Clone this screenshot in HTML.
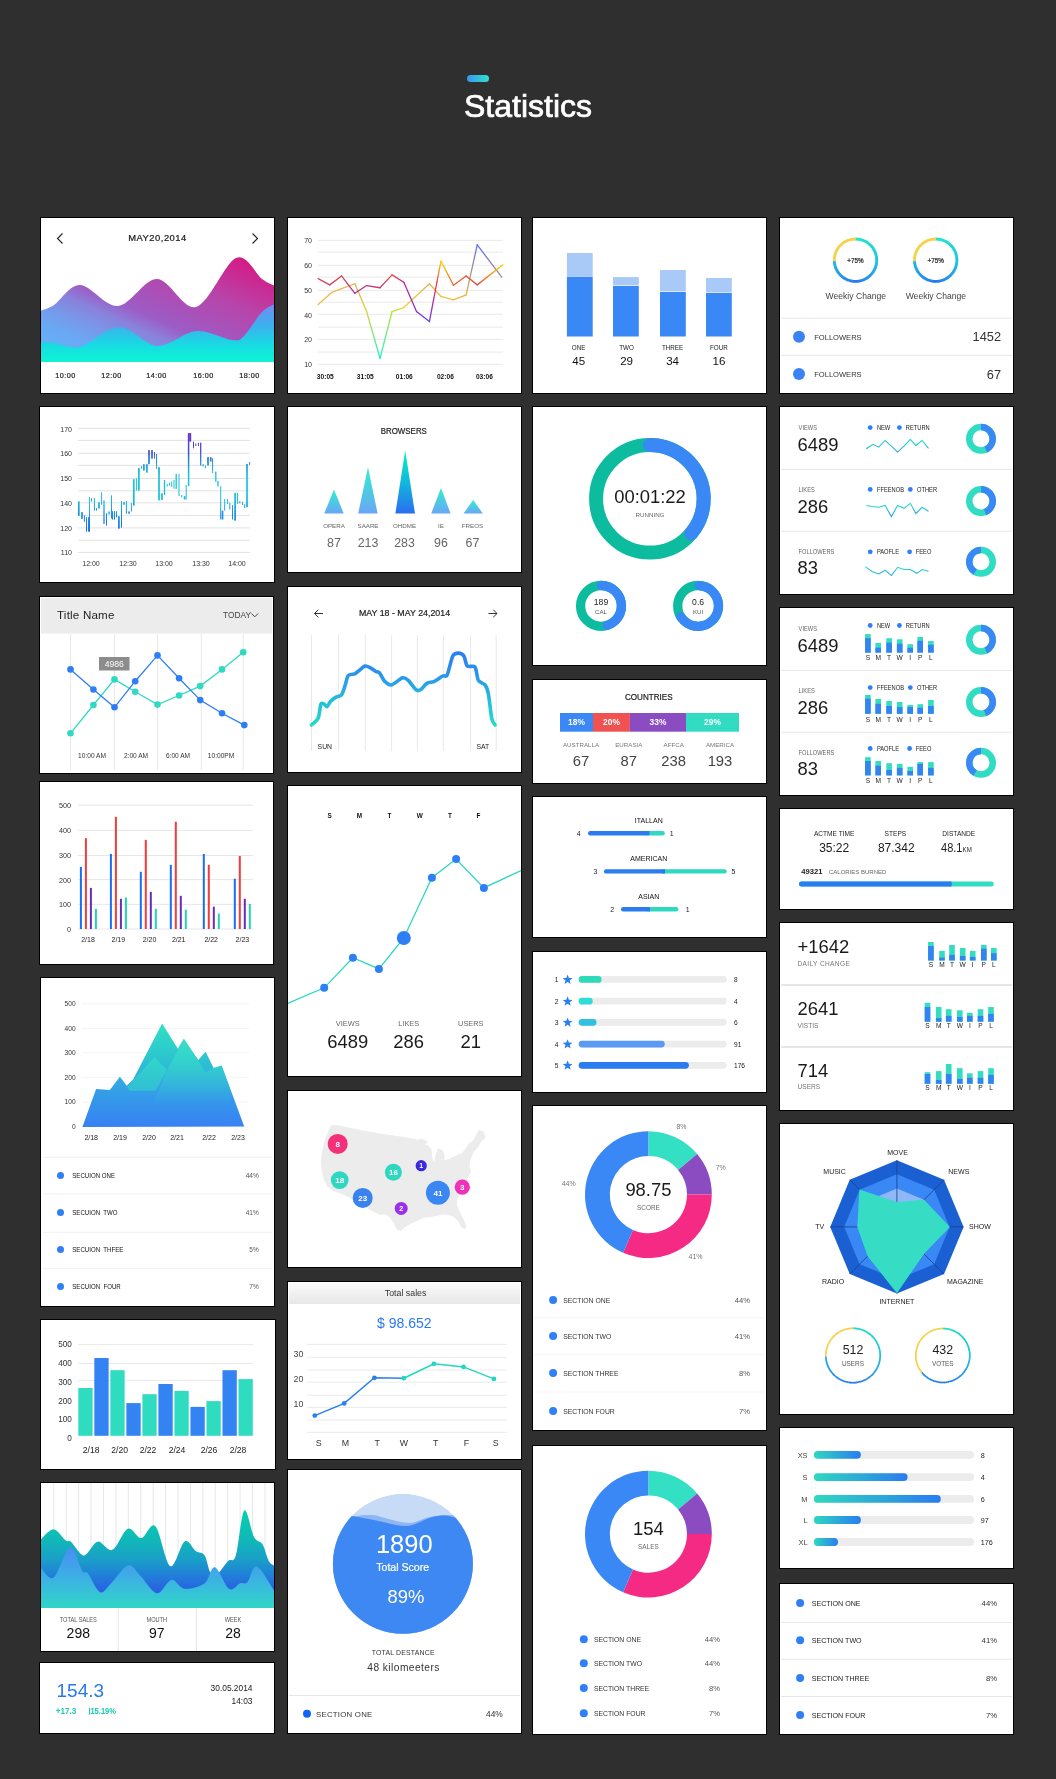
<!DOCTYPE html>
<html><head><meta charset="utf-8"><title>Statistics</title>
<style>
*{margin:0;padding:0;box-sizing:border-box}
html,body{width:1056px;height:1779px;background:#2f2f2f;overflow:hidden}
body{position:relative;font-family:"Liberation Sans",sans-serif}
.c{position:absolute;background:#fff}
.c::after{content:"";position:absolute;left:0;top:0;right:0;bottom:0;border:1px solid #000;pointer-events:none}
.c svg{position:absolute;left:0;top:0;display:block;font-family:"Liberation Sans",sans-serif;will-change:transform}
.hd{position:absolute;left:0;top:0;width:1056px;text-align:center}
.pill{position:absolute;left:467px;top:75px;width:22px;height:7px;border-radius:4px;background:linear-gradient(90deg,#3a95f2,#2fe0cf)}
.title{position:absolute;left:0;width:1056px;top:86px;text-align:center;color:#fff;font-size:32px;line-height:40px;-webkit-text-stroke:0.7px #fff;will-change:transform}
</style></head><body>
<div class="pill"></div>
<div class="title">Statistics</div>
<div class="c" style="left:40px;top:217px;width:235px;height:177px"><svg width="235" height="177" viewBox="40 217 235 177"><defs><linearGradient id="g11a" gradientUnits="userSpaceOnUse" x1="40" y1="362" x2="113.7" y2="194.5"><stop offset="0" stop-color="#62b6fb"/><stop offset="0.2" stop-color="#6aa8f4"/><stop offset="0.3" stop-color="#7a96e8"/><stop offset="0.39" stop-color="#8a80da"/><stop offset="0.47" stop-color="#9c5cc6"/><stop offset="0.72" stop-color="#b844aa"/><stop offset="1" stop-color="#d8157f"/></linearGradient><linearGradient id="g11b" gradientUnits="userSpaceOnUse" x1="0" y1="300" x2="0" y2="362"><stop offset="0" stop-color="#7c86f6"/><stop offset="0.4" stop-color="#3eaeee"/><stop offset="0.75" stop-color="#16dee0"/><stop offset="1" stop-color="#0ef4d6"/></linearGradient></defs><path d="M40,311 C42.33,310 47.33,309.33 54,305 C60.67,300.67 69.33,284.83 80,285 C90.67,285.17 105.17,307 118,306 C130.83,305 144,278.83 157,279 C170,279.17 182.83,310.5 196,307 C209.17,303.5 225,262.67 236,258 C247,253.33 255.5,274.33 262,279 C268.5,283.67 272.83,284.83 275,286 L275,362 L40,362 Z" fill="url(#g11a)"/><path d="M40,342 C42.5,342.17 48.33,342.17 55,343 C61.67,343.83 69.33,349.67 80,347 C90.67,344.33 106.17,327.17 119,327 C131.83,326.83 144.17,345.33 157,346 C169.83,346.67 183.5,332 196,331 C208.5,330 224,339.17 232,340 C240,340.83 239,340.67 244,336 C249,331.33 256.83,317.33 262,312 C267.17,306.67 272.83,305.33 275,304 L275,362 L40,362 Z" fill="url(#g11b)"/><polyline points="62.5,233.5 57.5,238.5 62.5,243.5" fill="none" stroke="#222" stroke-width="1.1"/><polyline points="252.5,233.5 257.5,238.5 252.5,243.5" fill="none" stroke="#222" stroke-width="1.1"/><text x="157.5" y="240.9" font-size="9.4" fill="#1a1a1a" text-anchor="middle" stroke="#1a1a1a" stroke-width="0.22" letter-spacing="0.5">MAY20,2014</text><text x="65.6" y="378" font-size="7.2" fill="#1e1e1e" text-anchor="middle" stroke="#1e1e1e" stroke-width="0.22" letter-spacing="0.5">10:00</text><text x="111.6" y="378" font-size="7.2" fill="#1e1e1e" text-anchor="middle" stroke="#1e1e1e" stroke-width="0.22" letter-spacing="0.5">12:00</text><text x="156.6" y="378" font-size="7.2" fill="#1e1e1e" text-anchor="middle" stroke="#1e1e1e" stroke-width="0.22" letter-spacing="0.5">14:00</text><text x="203.6" y="378" font-size="7.2" fill="#1e1e1e" text-anchor="middle" stroke="#1e1e1e" stroke-width="0.22" letter-spacing="0.5">16:00</text><text x="249.6" y="378" font-size="7.2" fill="#1e1e1e" text-anchor="middle" stroke="#1e1e1e" stroke-width="0.22" letter-spacing="0.5">18:00</text></svg></div>
<div class="c" style="left:39px;top:406px;width:236px;height:177px"><svg width="236" height="177" viewBox="39 406 236 177"><defs><linearGradient id="g12" gradientUnits="userSpaceOnUse" x1="0" y1="432" x2="0" y2="532"><stop offset="0" stop-color="#6d2ec2"/><stop offset="0.2" stop-color="#3d52cc"/><stop offset="0.36" stop-color="#1fa6da"/><stop offset="0.45" stop-color="#16c6d8"/><stop offset="0.68" stop-color="#18bddc"/><stop offset="0.82" stop-color="#1a90e8"/><stop offset="1" stop-color="#1566f2"/></linearGradient></defs><line x1="78" y1="428.4" x2="250" y2="428.4" stroke="#e2e2e2" stroke-width="1"/><line x1="78" y1="440.4" x2="250" y2="440.4" stroke="#e2e2e2" stroke-width="1"/><line x1="78" y1="453.3" x2="250" y2="453.3" stroke="#e2e2e2" stroke-width="1"/><line x1="78" y1="465.4" x2="250" y2="465.4" stroke="#e2e2e2" stroke-width="1"/><line x1="78" y1="478.5" x2="250" y2="478.5" stroke="#e2e2e2" stroke-width="1"/><line x1="78" y1="490.8" x2="250" y2="490.8" stroke="#e2e2e2" stroke-width="1"/><line x1="78" y1="502.8" x2="250" y2="502.8" stroke="#e2e2e2" stroke-width="1"/><line x1="78" y1="515.4" x2="250" y2="515.4" stroke="#e2e2e2" stroke-width="1"/><line x1="78" y1="527.9" x2="250" y2="527.9" stroke="#e2e2e2" stroke-width="1"/><line x1="78" y1="540.2" x2="250" y2="540.2" stroke="#e2e2e2" stroke-width="1"/><line x1="78" y1="552.4" x2="250" y2="552.4" stroke="#e2e2e2" stroke-width="1"/><g fill="url(#g12)"><rect x="77.95" y="501.3" width="1.7" height="14.5"/><rect x="81.15" y="512.1" width="1.7" height="6.7"/><rect x="83.9" y="515.2" width="1" height="6.6"/><rect x="86" y="517.1" width="1" height="14.5"/><rect x="88.05" y="517.1" width="1.7" height="14.5"/><rect x="89.05" y="497" width="0.9" height="34.6"/><rect x="91" y="498.1" width="1" height="3.6"/><rect x="93.9" y="498.1" width="1" height="12.6"/><rect x="96" y="508.1" width="1" height="2.6"/><rect x="98.15" y="502.2" width="1.7" height="6.3"/><rect x="101.1" y="492.3" width="1" height="12.4"/><rect x="103.35" y="500.4" width="1.3" height="23.5"/><rect x="106" y="513.2" width="1" height="12.4"/><rect x="108.45" y="511.5" width="1.3" height="3"/><rect x="111" y="495.3" width="1" height="23"/><rect x="111.85" y="511.1" width="1.3" height="8.5"/><rect x="114" y="511.1" width="1" height="8.5"/><rect x="116" y="511.1" width="1" height="6.4"/><rect x="118.05" y="516.2" width="1.7" height="12.4"/><rect x="121" y="500.9" width="1" height="26.8"/><rect x="123.15" y="502.2" width="1.7" height="2.5"/><rect x="125.9" y="500.9" width="1" height="12.8"/><rect x="128.15" y="511.4" width="1.7" height="2.3"/><rect x="130.9" y="503" width="1" height="8.5"/><rect x="132.95" y="479.1" width="1.7" height="26.5"/><rect x="135.9" y="478.3" width="1" height="12.3"/><rect x="138.05" y="468.1" width="1.7" height="22.5"/><rect x="141" y="466.3" width="1" height="2.2"/><rect x="143.05" y="464.2" width="1.7" height="6.4"/><rect x="146.05" y="464.2" width="1.7" height="8.5"/><rect x="148.15" y="450.1" width="1.7" height="14.1"/><rect x="151.15" y="450.1" width="1.7" height="8.6"/><rect x="154" y="452.1" width="1" height="6.6"/><rect x="156.1" y="454" width="1" height="14.9"/><rect x="158.15" y="467.2" width="1.7" height="33.2"/><rect x="161.15" y="493.2" width="1.7" height="6.8"/><rect x="163.85" y="480" width="1.3" height="14.9"/><rect x="166.8" y="484" width="1" height="2.5"/><rect x="169" y="482.8" width="1" height="2.9"/><rect x="171.2" y="481.5" width="1" height="5.5"/><rect x="173.5" y="480" width="1" height="8.8"/><rect x="175.55" y="473.9" width="1.3" height="14.9"/><rect x="178.5" y="473.9" width="1" height="22.2"/><rect x="181.2" y="495" width="1" height="2.2"/><rect x="183.75" y="496.1" width="1.7" height="3.4"/><rect x="185.7" y="485" width="1" height="14.5"/><rect x="187.85" y="433.1" width="1.5" height="53"/><rect x="189.2" y="433.1" width="2" height="8.5"/><rect x="193" y="441.6" width="1" height="6.7"/><rect x="195.3" y="443.5" width="1" height="2.5"/><rect x="197.9" y="442.7" width="1" height="3.3"/><rect x="200.05" y="442.7" width="1.3" height="22.9"/><rect x="202.6" y="464" width="1" height="2.5"/><rect x="204.8" y="465.6" width="1" height="2.7"/><rect x="207.15" y="457.2" width="1.7" height="8.4"/><rect x="209.85" y="457.2" width="1.7" height="4.4"/><rect x="212.1" y="458.3" width="1" height="14.9"/><rect x="215.15" y="471.6" width="1.3" height="10.1"/><rect x="217.35" y="481" width="1.3" height="5.6"/><rect x="220.2" y="486.1" width="1" height="33.4"/><rect x="221.65" y="510.6" width="1.7" height="8.9"/><rect x="224.2" y="499" width="1" height="11.6"/><rect x="227.1" y="499" width="1" height="4.9"/><rect x="229.3" y="502.8" width="1" height="6.7"/><rect x="232" y="505" width="1" height="14.5"/><rect x="234.25" y="492.8" width="1.7" height="27.8"/><rect x="237.1" y="492.8" width="1" height="11.1"/><rect x="239.3" y="501" width="1" height="2.5"/><rect x="242" y="501.7" width="1" height="3.3"/><rect x="244.2" y="504" width="1" height="4"/><rect x="246.15" y="463.9" width="1.7" height="43.3"/><rect x="249.1" y="462" width="1" height="3"/></g><text x="72" y="431.5" font-size="7" fill="#333" text-anchor="end">170</text><text x="72" y="455.5" font-size="7" fill="#333" text-anchor="end">160</text><text x="72" y="480.5" font-size="7" fill="#333" text-anchor="end">150</text><text x="72" y="505.5" font-size="7" fill="#333" text-anchor="end">140</text><text x="72" y="530.5" font-size="7" fill="#333" text-anchor="end">120</text><text x="72" y="554.5" font-size="7" fill="#333" text-anchor="end">110</text><text x="91" y="565.7" font-size="7" fill="#333" text-anchor="middle">12:00</text><text x="128" y="565.7" font-size="7" fill="#333" text-anchor="middle">12:30</text><text x="164" y="565.7" font-size="7" fill="#333" text-anchor="middle">13:00</text><text x="201" y="565.7" font-size="7" fill="#333" text-anchor="middle">13:30</text><text x="237" y="565.7" font-size="7" fill="#333" text-anchor="middle">14:00</text></svg></div>
<div class="c" style="left:39px;top:596px;width:235px;height:178px"><svg width="235" height="178" viewBox="39 596 235 178"><rect x="41" y="598" width="231" height="35.5" fill="#ececec"/><text x="57" y="618.9" font-size="11.6" fill="#1e1e1e" letter-spacing="0.2">Title Name</text><text x="223" y="617.6" font-size="8.4" fill="#444">TODAY</text><polyline points="251.5,613.5 254.8,616.8 258.1,613.5" fill="none" stroke="#444" stroke-width="1"/><line x1="70.5" y1="634" x2="70.5" y2="770" stroke="#e2e2e2" stroke-width="0.8"/><line x1="114.5" y1="634" x2="114.5" y2="770" stroke="#e2e2e2" stroke-width="0.8"/><line x1="157.5" y1="634" x2="157.5" y2="770" stroke="#e2e2e2" stroke-width="0.8"/><line x1="201.3" y1="634" x2="201.3" y2="770" stroke="#e2e2e2" stroke-width="0.8"/><line x1="243.2" y1="634" x2="243.2" y2="770" stroke="#e2e2e2" stroke-width="0.8"/><polyline points="70.5,733.3 93.4,705 114.5,679.4 135.2,691.7 157.5,704.6 179.1,695.5 200.2,686.1 222,669.4 243.2,652.3" fill="none" stroke="#2fd9c2" stroke-width="1.3"/><polyline points="70.5,669.4 93.4,689.5 114.5,707.3 135.2,681.2 157.5,655.4 179.1,678.3 200.2,700.1 222,713.3 244.3,725.1" fill="none" stroke="#2f7df5" stroke-width="1.3"/><circle cx="70.5" cy="733.3" r="3.3" fill="#2fd9c2"/><circle cx="93.4" cy="705" r="3.3" fill="#2fd9c2"/><circle cx="114.5" cy="679.4" r="3.3" fill="#2fd9c2"/><circle cx="135.2" cy="691.7" r="3.3" fill="#2fd9c2"/><circle cx="157.5" cy="704.6" r="3.3" fill="#2fd9c2"/><circle cx="179.1" cy="695.5" r="3.3" fill="#2fd9c2"/><circle cx="200.2" cy="686.1" r="3.3" fill="#2fd9c2"/><circle cx="222" cy="669.4" r="3.3" fill="#2fd9c2"/><circle cx="243.2" cy="652.3" r="3.3" fill="#2fd9c2"/><circle cx="70.5" cy="669.4" r="3.3" fill="#2f7df5"/><circle cx="93.4" cy="689.5" r="3.3" fill="#2f7df5"/><circle cx="114.5" cy="707.3" r="3.3" fill="#2f7df5"/><circle cx="135.2" cy="681.2" r="3.3" fill="#2f7df5"/><circle cx="157.5" cy="655.4" r="3.3" fill="#2f7df5"/><circle cx="179.1" cy="678.3" r="3.3" fill="#2f7df5"/><circle cx="200.2" cy="700.1" r="3.3" fill="#2f7df5"/><circle cx="222" cy="713.3" r="3.3" fill="#2f7df5"/><circle cx="244.3" cy="725.1" r="3.3" fill="#2f7df5"/><rect x="99" y="657" width="30.5" height="13.5" fill="#8c8c8c"/><text x="114.3" y="667" font-size="8.6" fill="#fff" text-anchor="middle">4986</text><text x="92" y="758" font-size="6.6" fill="#333" text-anchor="middle">10:00 AM</text><text x="136" y="758" font-size="6.6" fill="#333" text-anchor="middle">2:00 AM</text><text x="178" y="758" font-size="6.6" fill="#333" text-anchor="middle">6:00 AM</text><text x="221" y="758" font-size="6.6" fill="#333" text-anchor="middle">10:00PM</text></svg></div>
<div class="c" style="left:39px;top:781px;width:235px;height:184px"><svg width="235" height="184" viewBox="39 781 235 184"><line x1="78" y1="929" x2="253" y2="929" stroke="#e3e3e3" stroke-width="0.9"/><line x1="78" y1="904.4" x2="253" y2="904.4" stroke="#e3e3e3" stroke-width="0.9"/><line x1="78" y1="879.6" x2="253" y2="879.6" stroke="#e3e3e3" stroke-width="0.9"/><line x1="78" y1="855.5" x2="253" y2="855.5" stroke="#e3e3e3" stroke-width="0.9"/><line x1="78" y1="830.4" x2="253" y2="830.4" stroke="#e3e3e3" stroke-width="0.9"/><line x1="78" y1="805.2" x2="253" y2="805.2" stroke="#e3e3e3" stroke-width="0.9"/><text x="71" y="931.9" font-size="7.2" fill="#333" text-anchor="end">0</text><text x="71" y="907.3" font-size="7.2" fill="#333" text-anchor="end">100</text><text x="71" y="882.5" font-size="7.2" fill="#333" text-anchor="end">200</text><text x="71" y="858.4" font-size="7.2" fill="#333" text-anchor="end">300</text><text x="71" y="833.3" font-size="7.2" fill="#333" text-anchor="end">400</text><text x="71" y="808.1" font-size="7.2" fill="#333" text-anchor="end">500</text><rect x="79.9" y="866.85" width="2" height="62.15" fill="#1a6ef5"/><rect x="84.9" y="838.13" width="2" height="90.87" fill="#f23b3b"/><rect x="89.9" y="887.9" width="2" height="41.1" fill="#6a2bb8"/><rect x="94.9" y="908.82" width="2" height="20.18" fill="#1fd6b0"/><rect x="109.9" y="853.98" width="2" height="75.02" fill="#1a6ef5"/><rect x="114.9" y="816.84" width="2" height="112.16" fill="#f23b3b"/><rect x="119.9" y="898.79" width="2" height="30.21" fill="#6a2bb8"/><rect x="124.9" y="897.55" width="2" height="31.45" fill="#1fd6b0"/><rect x="139.8" y="871.8" width="2" height="57.2" fill="#1a6ef5"/><rect x="144.8" y="839.86" width="2" height="89.14" fill="#f23b3b"/><rect x="149.8" y="891.86" width="2" height="37.14" fill="#6a2bb8"/><rect x="154.8" y="908.82" width="2" height="20.18" fill="#1fd6b0"/><rect x="169.8" y="864.87" width="2" height="64.13" fill="#1a6ef5"/><rect x="174.8" y="821.79" width="2" height="107.21" fill="#f23b3b"/><rect x="179.8" y="895.82" width="2" height="33.18" fill="#6a2bb8"/><rect x="184.8" y="909.69" width="2" height="19.31" fill="#1fd6b0"/><rect x="202.8" y="853.98" width="2" height="75.02" fill="#1a6ef5"/><rect x="207.8" y="864.87" width="2" height="64.13" fill="#f23b3b"/><rect x="212.8" y="906.72" width="2" height="22.28" fill="#6a2bb8"/><rect x="217.8" y="913.65" width="2" height="15.35" fill="#1fd6b0"/><rect x="233.8" y="878.74" width="2" height="50.26" fill="#1a6ef5"/><rect x="238.8" y="855.96" width="2" height="73.04" fill="#f23b3b"/><rect x="243.8" y="898.79" width="2" height="30.21" fill="#6a2bb8"/><rect x="248.8" y="903.99" width="2" height="25.01" fill="#1fd6b0"/><text x="88" y="942.3" font-size="7" fill="#222" text-anchor="middle">2/18</text><text x="118.3" y="942.3" font-size="7" fill="#222" text-anchor="middle">2/19</text><text x="149.5" y="942.3" font-size="7" fill="#222" text-anchor="middle">2/20</text><text x="178.7" y="942.3" font-size="7" fill="#222" text-anchor="middle">2/21</text><text x="211.2" y="942.3" font-size="7" fill="#222" text-anchor="middle">2/22</text><text x="242.4" y="942.3" font-size="7" fill="#222" text-anchor="middle">2/23</text></svg></div>
<div class="c" style="left:40px;top:977px;width:235px;height:330px"><svg width="235" height="330" viewBox="40 977 235 330"><defs><linearGradient id="g15" gradientUnits="userSpaceOnUse" x1="0" y1="1022" x2="0" y2="1127"><stop offset="0" stop-color="#2fe2c0"/><stop offset="0.35" stop-color="#2cc4d0"/><stop offset="0.65" stop-color="#33a0e6"/><stop offset="1" stop-color="#3880f4"/></linearGradient><linearGradient id="g15b" gradientUnits="userSpaceOnUse" x1="0" y1="1040" x2="0" y2="1100"><stop offset="0" stop-color="#36e6c4"/><stop offset="1" stop-color="#2fc0d2"/></linearGradient></defs><line x1="82" y1="1126.8" x2="249" y2="1126.8" stroke="#f0f0f0" stroke-width="0.8"/><line x1="82" y1="1102" x2="249" y2="1102" stroke="#f0f0f0" stroke-width="0.8"/><line x1="82" y1="1077.6" x2="249" y2="1077.6" stroke="#f0f0f0" stroke-width="0.8"/><line x1="82" y1="1052.7" x2="249" y2="1052.7" stroke="#f0f0f0" stroke-width="0.8"/><line x1="82" y1="1028.6" x2="249" y2="1028.6" stroke="#f0f0f0" stroke-width="0.8"/><line x1="82" y1="1003.7" x2="249" y2="1003.7" stroke="#f0f0f0" stroke-width="0.8"/><text x="75.6" y="1129.2" font-size="6.6" fill="#333" text-anchor="end">0</text><text x="75.6" y="1104.4" font-size="6.6" fill="#333" text-anchor="end">100</text><text x="75.6" y="1080" font-size="6.6" fill="#333" text-anchor="end">200</text><text x="75.6" y="1055.1" font-size="6.6" fill="#333" text-anchor="end">300</text><text x="75.6" y="1031" font-size="6.6" fill="#333" text-anchor="end">400</text><text x="75.6" y="1006.1" font-size="6.6" fill="#333" text-anchor="end">500</text><polygon points="82.4,1127 96.1,1089 109.8,1089.9 119.9,1076.7 126.7,1085.8 133.1,1079.4 162.1,1023.4 177.9,1048.8 183.8,1038.8 198.3,1060.1 205.6,1051.7 213.6,1068.1 221.7,1065.4 244.2,1126.5" fill="url(#g15)"/><polygon points="127.5,1086.6 154.4,1057.2 166.9,1069.7 155.7,1090.7 129.1,1090.7" fill="url(#g15b)" opacity="0.8"/><defs><linearGradient id="g15c" gradientUnits="userSpaceOnUse" x1="0" y1="1039" x2="0" y2="1105"><stop offset="0" stop-color="#3ae2c6" stop-opacity="0.75"/><stop offset="1" stop-color="#3ae2c6" stop-opacity="0"/></linearGradient></defs><polygon points="150,1110 168.9,1066.4 184.1,1038.9 197.7,1060.3 205.3,1072.4 213.6,1068.1 221.7,1065.4 232,1095 225,1110" fill="url(#g15c)"/><text x="91.2" y="1140.3" font-size="7" fill="#222" text-anchor="middle">2/18</text><text x="120" y="1140.3" font-size="7" fill="#222" text-anchor="middle">2/19</text><text x="149" y="1140.3" font-size="7" fill="#222" text-anchor="middle">2/20</text><text x="177" y="1140.3" font-size="7" fill="#222" text-anchor="middle">2/21</text><text x="209" y="1140.3" font-size="7" fill="#222" text-anchor="middle">2/22</text><text x="238" y="1140.3" font-size="7" fill="#222" text-anchor="middle">2/23</text><line x1="43" y1="1157.3" x2="272" y2="1157.3" stroke="#ececec" stroke-width="0.8"/><line x1="43" y1="1193.8" x2="272" y2="1193.8" stroke="#ececec" stroke-width="0.8"/><line x1="43" y1="1232.3" x2="272" y2="1232.3" stroke="#ececec" stroke-width="0.8"/><line x1="43" y1="1268.6" x2="272" y2="1268.6" stroke="#ececec" stroke-width="0.8"/><circle cx="60.5" cy="1175.6" r="3.5" fill="#2f80f6"/><text transform="translate(72.3 1178.2) scale(0.86 1)" font-size="7.1" fill="#111">SECUION ONE</text><text transform="translate(258.7 1178.2) scale(0.92 1)" font-size="7.1" fill="#555" text-anchor="end">44%</text><circle cx="60.5" cy="1212.5" r="3.5" fill="#2f80f6"/><text transform="translate(72.3 1215.1) scale(0.86 1)" font-size="7.1" fill="#111">SECUION&#160; TWO</text><text transform="translate(258.7 1215.1) scale(0.92 1)" font-size="7.1" fill="#555" text-anchor="end">41%</text><circle cx="60.5" cy="1249.5" r="3.5" fill="#2f80f6"/><text transform="translate(72.3 1252.1) scale(0.86 1)" font-size="7.1" fill="#111">SECUION&#160; THFEE</text><text transform="translate(258.7 1252.1) scale(0.92 1)" font-size="7.1" fill="#555" text-anchor="end">5%</text><circle cx="60.5" cy="1286.4" r="3.5" fill="#2f80f6"/><text transform="translate(72.3 1289) scale(0.86 1)" font-size="7.1" fill="#111">SECUION&#160; FOUR</text><text transform="translate(258.7 1289) scale(0.92 1)" font-size="7.1" fill="#555" text-anchor="end">7%</text></svg></div>
<div class="c" style="left:40px;top:1319px;width:236px;height:151px"><svg width="236" height="151" viewBox="40 1319 236 151"><line x1="78.3" y1="1344.6" x2="253" y2="1344.6" stroke="#e6e6e6" stroke-width="0.9"/><line x1="78.3" y1="1363.5" x2="253" y2="1363.5" stroke="#e6e6e6" stroke-width="0.9"/><line x1="78.3" y1="1380.4" x2="253" y2="1380.4" stroke="#e6e6e6" stroke-width="0.9"/><text x="71.8" y="1346.9" font-size="8.2" fill="#333" text-anchor="end">500</text><text x="71.8" y="1365.9" font-size="8.2" fill="#333" text-anchor="end">400</text><text x="71.8" y="1384.7" font-size="8.2" fill="#333" text-anchor="end">300</text><text x="71.8" y="1403.8" font-size="8.2" fill="#333" text-anchor="end">200</text><text x="71.8" y="1421.9" font-size="8.2" fill="#333" text-anchor="end">100</text><text x="71.8" y="1440.9" font-size="8.2" fill="#333" text-anchor="end">0</text><rect x="78.3" y="1388" width="14.3" height="47.8" fill="#2fdcc0"/><rect x="94.32" y="1358" width="14.3" height="77.8" fill="#3383f2"/><rect x="110.34" y="1370.2" width="14.3" height="65.6" fill="#2fdcc0"/><rect x="126.36" y="1403.1" width="14.3" height="32.7" fill="#3383f2"/><rect x="142.38" y="1394.2" width="14.3" height="41.6" fill="#2fdcc0"/><rect x="158.4" y="1384" width="14.3" height="51.8" fill="#3383f2"/><rect x="174.42" y="1390.9" width="14.3" height="44.9" fill="#2fdcc0"/><rect x="190.44" y="1406.9" width="14.3" height="28.9" fill="#3383f2"/><rect x="206.46" y="1401.1" width="14.3" height="34.7" fill="#2fdcc0"/><rect x="222.48" y="1370.2" width="14.3" height="65.6" fill="#3383f2"/><rect x="238.5" y="1379.1" width="14.3" height="56.7" fill="#2fdcc0"/><text x="91.2" y="1453.3" font-size="8.6" fill="#222" text-anchor="middle">2/18</text><text x="119.7" y="1453.3" font-size="8.6" fill="#222" text-anchor="middle">2/20</text><text x="148" y="1453.3" font-size="8.6" fill="#222" text-anchor="middle">2/22</text><text x="177" y="1453.3" font-size="8.6" fill="#222" text-anchor="middle">2/24</text><text x="209" y="1453.3" font-size="8.6" fill="#222" text-anchor="middle">2/26</text><text x="238" y="1453.3" font-size="8.6" fill="#222" text-anchor="middle">2/28</text></svg></div>
<div class="c" style="left:40px;top:1482px;width:235px;height:170px"><svg width="235" height="170" viewBox="40 1482 235 170"><defs><linearGradient id="g17a" gradientUnits="userSpaceOnUse" x1="0" y1="1510" x2="0" y2="1600"><stop offset="0" stop-color="#04d0ae"/><stop offset="0.333" stop-color="#10b8b8"/><stop offset="0.556" stop-color="#1a9ec8"/><stop offset="0.722" stop-color="#2080d8"/><stop offset="0.911" stop-color="#2a5ee2"/></linearGradient><linearGradient id="g17b" gradientUnits="userSpaceOnUse" x1="0" y1="1547" x2="0" y2="1608"><stop offset="0" stop-color="#4a8cf4"/><stop offset="0.5" stop-color="#3cb0e4"/><stop offset="1" stop-color="#30d6c8"/></linearGradient></defs><line x1="53.8" y1="1483" x2="53.8" y2="1608" stroke="#e4e4e4" stroke-width="0.9"/><line x1="66.22" y1="1483" x2="66.22" y2="1608" stroke="#e4e4e4" stroke-width="0.9"/><line x1="78.64" y1="1483" x2="78.64" y2="1608" stroke="#e4e4e4" stroke-width="0.9"/><line x1="91.06" y1="1483" x2="91.06" y2="1608" stroke="#e4e4e4" stroke-width="0.9"/><line x1="103.48" y1="1483" x2="103.48" y2="1608" stroke="#e4e4e4" stroke-width="0.9"/><line x1="115.9" y1="1483" x2="115.9" y2="1608" stroke="#e4e4e4" stroke-width="0.9"/><line x1="128.32" y1="1483" x2="128.32" y2="1608" stroke="#e4e4e4" stroke-width="0.9"/><line x1="140.74" y1="1483" x2="140.74" y2="1608" stroke="#e4e4e4" stroke-width="0.9"/><line x1="153.16" y1="1483" x2="153.16" y2="1608" stroke="#e4e4e4" stroke-width="0.9"/><line x1="165.58" y1="1483" x2="165.58" y2="1608" stroke="#e4e4e4" stroke-width="0.9"/><line x1="178" y1="1483" x2="178" y2="1608" stroke="#e4e4e4" stroke-width="0.9"/><line x1="190.42" y1="1483" x2="190.42" y2="1608" stroke="#e4e4e4" stroke-width="0.9"/><line x1="202.84" y1="1483" x2="202.84" y2="1608" stroke="#e4e4e4" stroke-width="0.9"/><line x1="215.26" y1="1483" x2="215.26" y2="1608" stroke="#e4e4e4" stroke-width="0.9"/><line x1="227.68" y1="1483" x2="227.68" y2="1608" stroke="#e4e4e4" stroke-width="0.9"/><line x1="240.1" y1="1483" x2="240.1" y2="1608" stroke="#e4e4e4" stroke-width="0.9"/><line x1="252.52" y1="1483" x2="252.52" y2="1608" stroke="#e4e4e4" stroke-width="0.9"/><line x1="264.94" y1="1483" x2="264.94" y2="1608" stroke="#e4e4e4" stroke-width="0.9"/><path d="M40,1540.3 C42.23,1538.45 49.09,1529.17 53.35,1529.17 C57.62,1529.17 62.62,1538.15 65.59,1540.3 C68.56,1542.45 68.56,1539.74 71.15,1542.08 C73.75,1544.42 78.57,1552.39 81.17,1554.32 C83.76,1556.25 83.95,1555.77 86.73,1553.65 C89.51,1551.54 93.59,1542.27 97.85,1541.64 C102.12,1541 107.31,1552.02 112.32,1549.87 C117.33,1547.72 123.07,1530.69 127.89,1528.73 C132.72,1526.76 136.68,1538.52 141.25,1538.07 C145.81,1537.63 150.44,1521.39 155.26,1526.06 C160.09,1530.73 165.28,1563.55 170.17,1566.11 C175.07,1568.67 180.37,1543.93 184.64,1541.41 C188.9,1538.89 192.43,1548.64 195.76,1550.98 C199.1,1553.32 202.25,1551.91 204.66,1555.43 C207.07,1558.95 208.19,1568.97 210.23,1572.12 C212.27,1575.27 213.94,1576.2 216.9,1574.35 C219.87,1572.49 224.88,1564.15 228.03,1560.99 C231.18,1557.84 233.11,1563.85 235.82,1555.43 C238.52,1547.01 241.23,1513.56 244.27,1510.48 C247.31,1507.4 251.02,1531.33 254.06,1536.96 C257.1,1542.6 260.07,1540.3 262.52,1544.31 C264.97,1548.31 266.67,1557.36 268.75,1560.99 C270.83,1564.63 273.96,1565.26 275,1566.11 L275,1608 L40,1608 Z" fill="url(#g17a)"/><path d="M40,1566.56 C42.23,1568.41 48.34,1580.84 53.35,1577.68 C58.36,1574.53 65.22,1548.76 70.04,1547.64 C74.86,1546.53 79.31,1566.74 82.28,1571.01 C85.25,1575.27 84.87,1569.71 87.84,1573.23 C90.81,1576.76 96.19,1590.48 100.08,1592.15 C103.97,1593.82 106.57,1587.7 111.21,1583.25 C115.84,1578.8 123.07,1566.74 127.89,1565.44 C132.72,1564.15 135.31,1570.82 140.13,1575.46 C144.95,1580.09 151.63,1592.52 156.82,1593.26 C162.01,1594 166.65,1580.65 171.29,1579.91 C175.92,1579.17 179.07,1588.25 184.64,1588.81 C190.2,1589.37 199.66,1586.84 204.66,1583.25 C209.67,1579.65 210.6,1566.3 214.68,1567.22 C218.76,1568.15 224.88,1586.14 229.14,1588.81 C233.41,1591.48 237.23,1584.36 240.27,1583.25 C243.31,1582.13 244.61,1584.91 247.39,1582.13 C250.17,1579.35 252.35,1564.89 256.96,1566.56 C261.56,1568.23 271.99,1587.88 275,1592.15 L275,1608 L40,1608 Z" fill="url(#g17b)"/><line x1="118.3" y1="1608" x2="118.3" y2="1651" stroke="#e2e2e2" stroke-width="0.9"/><line x1="196.4" y1="1608" x2="196.4" y2="1651" stroke="#e2e2e2" stroke-width="0.9"/><text transform="translate(78.3 1622.2) scale(0.88 1)" font-size="6.4" fill="#555" text-anchor="middle">TOTAL SALES</text><text x="78.3" y="1638.3" font-size="14" fill="#111" text-anchor="middle">298</text><text transform="translate(156.8 1622.2) scale(0.88 1)" font-size="6.4" fill="#555" text-anchor="middle">MOUTH</text><text x="156.8" y="1638.3" font-size="14" fill="#111" text-anchor="middle">97</text><text transform="translate(233 1622.2) scale(0.88 1)" font-size="6.4" fill="#555" text-anchor="middle">WEEK</text><text x="233" y="1638.3" font-size="14" fill="#111" text-anchor="middle">28</text></svg></div>
<div class="c" style="left:39px;top:1662px;width:236px;height:72px"><svg width="236" height="72" viewBox="39 1662 236 72"><text x="56.5" y="1696.7" font-size="19" fill="#2a78f0">154.3</text><text transform="translate(55.8 1714.2) scale(0.97 1)" font-size="8.4" fill="#1ec8b0" font-weight="bold">+17.3</text><text transform="translate(90.4 1714.2) scale(0.9 1)" font-size="8.4" fill="#1ec8b0" font-weight="bold">15.19%</text><line x1="89.6" y1="1707.8" x2="89.6" y2="1714.8" stroke="#1ec8b0" stroke-width="1.1"/><text x="252.5" y="1691.3" font-size="8.4" fill="#222" text-anchor="end">30.05.2014</text><text x="252.5" y="1704.3" font-size="8.4" fill="#222" text-anchor="end">14:03</text></svg></div>
<div class="c" style="left:287px;top:217px;width:235px;height:177px"><svg width="235" height="177" viewBox="287 217 235 177"><line x1="318" y1="240.4" x2="503" y2="240.4" stroke="#e6e6e6" stroke-width="0.9"/><line x1="318" y1="252.2" x2="503" y2="252.2" stroke="#e6e6e6" stroke-width="0.9"/><line x1="318" y1="265.3" x2="503" y2="265.3" stroke="#e6e6e6" stroke-width="0.9"/><line x1="318" y1="277.1" x2="503" y2="277.1" stroke="#e6e6e6" stroke-width="0.9"/><line x1="318" y1="290.4" x2="503" y2="290.4" stroke="#e6e6e6" stroke-width="0.9"/><line x1="318" y1="302.2" x2="503" y2="302.2" stroke="#e6e6e6" stroke-width="0.9"/><line x1="318" y1="314.2" x2="503" y2="314.2" stroke="#e6e6e6" stroke-width="0.9"/><line x1="318" y1="327.1" x2="503" y2="327.1" stroke="#e6e6e6" stroke-width="0.9"/><line x1="318" y1="339.4" x2="503" y2="339.4" stroke="#e6e6e6" stroke-width="0.9"/><line x1="318" y1="352.1" x2="503" y2="352.1" stroke="#e6e6e6" stroke-width="0.9"/><line x1="318" y1="364.3" x2="503" y2="364.3" stroke="#e6e6e6" stroke-width="0.9"/><text x="312" y="242.9" font-size="7" fill="#333" text-anchor="end">70</text><text x="312" y="267.8" font-size="7" fill="#333" text-anchor="end">60</text><text x="312" y="292.9" font-size="7" fill="#333" text-anchor="end">50</text><text x="312" y="317.5" font-size="7" fill="#333" text-anchor="end">40</text><text x="312" y="341.9" font-size="7" fill="#333" text-anchor="end">20</text><text x="312" y="366.8" font-size="7" fill="#333" text-anchor="end">10</text><defs><linearGradient id="l21_1" gradientUnits="userSpaceOnUse" x1="318.15" y1="304.45" x2="331.5" y2="292.66"><stop offset="0" stop-color="#f0c040"/><stop offset="1" stop-color="#e9b848"/></linearGradient><linearGradient id="l21_2" gradientUnits="userSpaceOnUse" x1="331.5" y1="292.66" x2="341.52" y2="288.65"><stop offset="0" stop-color="#e9b848"/><stop offset="1" stop-color="#e8b850"/></linearGradient><linearGradient id="l21_3" gradientUnits="userSpaceOnUse" x1="341.52" y1="288.65" x2="354.87" y2="283.76"><stop offset="0" stop-color="#e8b850"/><stop offset="1" stop-color="#e8b048"/></linearGradient><linearGradient id="l21_4" gradientUnits="userSpaceOnUse" x1="354.87" y1="283.76" x2="366.66" y2="311.57"><stop offset="0" stop-color="#e8b048"/><stop offset="1" stop-color="#d6d42e"/></linearGradient><linearGradient id="l21_5" gradientUnits="userSpaceOnUse" x1="366.66" y1="311.57" x2="380.01" y2="358.3"><stop offset="0" stop-color="#d6d42e"/><stop offset="1" stop-color="#1ff2c4"/></linearGradient><linearGradient id="l21_6" gradientUnits="userSpaceOnUse" x1="380.01" y1="358.3" x2="392.03" y2="311.57"><stop offset="0" stop-color="#1ff2c4"/><stop offset="1" stop-color="#b6e22e"/></linearGradient><linearGradient id="l21_7" gradientUnits="userSpaceOnUse" x1="392.03" y1="311.57" x2="403.82" y2="307.57"><stop offset="0" stop-color="#b6e22e"/><stop offset="1" stop-color="#f2d22e"/></linearGradient><linearGradient id="l21_8" gradientUnits="userSpaceOnUse" x1="403.82" y1="307.57" x2="429.41" y2="283.76"><stop offset="0" stop-color="#f2d22e"/><stop offset="1" stop-color="#e6b052"/></linearGradient><linearGradient id="l21_9" gradientUnits="userSpaceOnUse" x1="429.41" y1="283.76" x2="440.98" y2="296.44"><stop offset="0" stop-color="#e6b052"/><stop offset="1" stop-color="#f0c040"/></linearGradient><linearGradient id="l21_10" gradientUnits="userSpaceOnUse" x1="440.98" y1="296.44" x2="453.44" y2="299.78"><stop offset="0" stop-color="#f0c040"/><stop offset="1" stop-color="#f0c040"/></linearGradient><linearGradient id="l21_11" gradientUnits="userSpaceOnUse" x1="453.44" y1="299.78" x2="466.13" y2="294.88"><stop offset="0" stop-color="#f0c040"/><stop offset="1" stop-color="#e6b040"/></linearGradient><linearGradient id="l21_12" gradientUnits="userSpaceOnUse" x1="466.13" y1="294.88" x2="477.25" y2="244.81"><stop offset="0" stop-color="#e6b040"/><stop offset="1" stop-color="#5a6ef2"/></linearGradient><linearGradient id="l21_13" gradientUnits="userSpaceOnUse" x1="477.25" y1="244.81" x2="501.73" y2="277.08"><stop offset="0" stop-color="#5a6ef2"/><stop offset="1" stop-color="#a69080"/></linearGradient><linearGradient id="l21_14" gradientUnits="userSpaceOnUse" x1="318.15" y1="278.64" x2="329.72" y2="284.87"><stop offset="0" stop-color="#d8485c"/><stop offset="1" stop-color="#cf3e66"/></linearGradient><linearGradient id="l21_15" gradientUnits="userSpaceOnUse" x1="329.72" y1="284.87" x2="341.52" y2="275.97"><stop offset="0" stop-color="#cf3e66"/><stop offset="1" stop-color="#d8484e"/></linearGradient><linearGradient id="l21_16" gradientUnits="userSpaceOnUse" x1="341.52" y1="275.97" x2="354.87" y2="293.32"><stop offset="0" stop-color="#d8484e"/><stop offset="1" stop-color="#ae2a9e"/></linearGradient><linearGradient id="l21_17" gradientUnits="userSpaceOnUse" x1="354.87" y1="293.32" x2="366.66" y2="285.54"><stop offset="0" stop-color="#ae2a9e"/><stop offset="1" stop-color="#c13282"/></linearGradient><linearGradient id="l21_18" gradientUnits="userSpaceOnUse" x1="366.66" y1="285.54" x2="380.01" y2="287.76"><stop offset="0" stop-color="#c13282"/><stop offset="1" stop-color="#c8387a"/></linearGradient><linearGradient id="l21_19" gradientUnits="userSpaceOnUse" x1="380.01" y1="287.76" x2="392.03" y2="274.85"><stop offset="0" stop-color="#c8387a"/><stop offset="1" stop-color="#e25040"/></linearGradient><linearGradient id="l21_20" gradientUnits="userSpaceOnUse" x1="392.03" y1="274.85" x2="403.82" y2="282.2"><stop offset="0" stop-color="#e25040"/><stop offset="1" stop-color="#c0288e"/></linearGradient><linearGradient id="l21_21" gradientUnits="userSpaceOnUse" x1="403.82" y1="282.2" x2="416.51" y2="311.57"><stop offset="0" stop-color="#c0288e"/><stop offset="1" stop-color="#8a30d2"/></linearGradient><linearGradient id="l21_22" gradientUnits="userSpaceOnUse" x1="416.51" y1="311.57" x2="429.41" y2="321.58"><stop offset="0" stop-color="#8a30d2"/><stop offset="1" stop-color="#6440f2"/></linearGradient><linearGradient id="l21_23" gradientUnits="userSpaceOnUse" x1="429.41" y1="321.58" x2="433.46" y2="300.4"><stop offset="0" stop-color="#6440f2"/><stop offset="1" stop-color="#b82a9a"/></linearGradient><linearGradient id="l21_24" gradientUnits="userSpaceOnUse" x1="433.46" y1="300.4" x2="436.93" y2="282.24"><stop offset="0" stop-color="#b82a9a"/><stop offset="1" stop-color="#e84848"/></linearGradient><linearGradient id="l21_25" gradientUnits="userSpaceOnUse" x1="436.93" y1="282.24" x2="440.98" y2="261.06"><stop offset="0" stop-color="#e84848"/><stop offset="1" stop-color="#ffd200"/></linearGradient><linearGradient id="l21_26" gradientUnits="userSpaceOnUse" x1="440.98" y1="261.06" x2="453.44" y2="285.31"><stop offset="0" stop-color="#ffd200"/><stop offset="1" stop-color="#e2602e"/></linearGradient><linearGradient id="l21_27" gradientUnits="userSpaceOnUse" x1="453.44" y1="285.31" x2="466.13" y2="275.97"><stop offset="0" stop-color="#e2602e"/><stop offset="1" stop-color="#e05a3a"/></linearGradient><linearGradient id="l21_28" gradientUnits="userSpaceOnUse" x1="466.13" y1="275.97" x2="477.25" y2="284.87"><stop offset="0" stop-color="#e05a3a"/><stop offset="1" stop-color="#e04a4a"/></linearGradient><linearGradient id="l21_29" gradientUnits="userSpaceOnUse" x1="477.25" y1="284.87" x2="502.84" y2="264.84"><stop offset="0" stop-color="#e04a4a"/><stop offset="1" stop-color="#ffd000"/></linearGradient></defs><line x1="318.15" y1="304.45" x2="331.5" y2="292.66" stroke="url(#l21_1)" stroke-width="1.3" stroke-linecap="round"/><line x1="331.5" y1="292.66" x2="341.52" y2="288.65" stroke="url(#l21_2)" stroke-width="1.3" stroke-linecap="round"/><line x1="341.52" y1="288.65" x2="354.87" y2="283.76" stroke="url(#l21_3)" stroke-width="1.3" stroke-linecap="round"/><line x1="354.87" y1="283.76" x2="366.66" y2="311.57" stroke="url(#l21_4)" stroke-width="1.3" stroke-linecap="round"/><line x1="366.66" y1="311.57" x2="380.01" y2="358.3" stroke="url(#l21_5)" stroke-width="1.3" stroke-linecap="round"/><line x1="380.01" y1="358.3" x2="392.03" y2="311.57" stroke="url(#l21_6)" stroke-width="1.3" stroke-linecap="round"/><line x1="392.03" y1="311.57" x2="403.82" y2="307.57" stroke="url(#l21_7)" stroke-width="1.3" stroke-linecap="round"/><line x1="403.82" y1="307.57" x2="429.41" y2="283.76" stroke="url(#l21_8)" stroke-width="1.3" stroke-linecap="round"/><line x1="429.41" y1="283.76" x2="440.98" y2="296.44" stroke="url(#l21_9)" stroke-width="1.3" stroke-linecap="round"/><line x1="440.98" y1="296.44" x2="453.44" y2="299.78" stroke="url(#l21_10)" stroke-width="1.3" stroke-linecap="round"/><line x1="453.44" y1="299.78" x2="466.13" y2="294.88" stroke="url(#l21_11)" stroke-width="1.3" stroke-linecap="round"/><line x1="466.13" y1="294.88" x2="477.25" y2="244.81" stroke="url(#l21_12)" stroke-width="1.3" stroke-linecap="round"/><line x1="477.25" y1="244.81" x2="501.73" y2="277.08" stroke="url(#l21_13)" stroke-width="1.3" stroke-linecap="round"/><line x1="318.15" y1="278.64" x2="329.72" y2="284.87" stroke="url(#l21_14)" stroke-width="1.3" stroke-linecap="round"/><line x1="329.72" y1="284.87" x2="341.52" y2="275.97" stroke="url(#l21_15)" stroke-width="1.3" stroke-linecap="round"/><line x1="341.52" y1="275.97" x2="354.87" y2="293.32" stroke="url(#l21_16)" stroke-width="1.3" stroke-linecap="round"/><line x1="354.87" y1="293.32" x2="366.66" y2="285.54" stroke="url(#l21_17)" stroke-width="1.3" stroke-linecap="round"/><line x1="366.66" y1="285.54" x2="380.01" y2="287.76" stroke="url(#l21_18)" stroke-width="1.3" stroke-linecap="round"/><line x1="380.01" y1="287.76" x2="392.03" y2="274.85" stroke="url(#l21_19)" stroke-width="1.3" stroke-linecap="round"/><line x1="392.03" y1="274.85" x2="403.82" y2="282.2" stroke="url(#l21_20)" stroke-width="1.3" stroke-linecap="round"/><line x1="403.82" y1="282.2" x2="416.51" y2="311.57" stroke="url(#l21_21)" stroke-width="1.3" stroke-linecap="round"/><line x1="416.51" y1="311.57" x2="429.41" y2="321.58" stroke="url(#l21_22)" stroke-width="1.3" stroke-linecap="round"/><line x1="429.41" y1="321.58" x2="433.46" y2="300.4" stroke="url(#l21_23)" stroke-width="1.3" stroke-linecap="round"/><line x1="433.46" y1="300.4" x2="436.93" y2="282.24" stroke="url(#l21_24)" stroke-width="1.3" stroke-linecap="round"/><line x1="436.93" y1="282.24" x2="440.98" y2="261.06" stroke="url(#l21_25)" stroke-width="1.3" stroke-linecap="round"/><line x1="440.98" y1="261.06" x2="453.44" y2="285.31" stroke="url(#l21_26)" stroke-width="1.3" stroke-linecap="round"/><line x1="453.44" y1="285.31" x2="466.13" y2="275.97" stroke="url(#l21_27)" stroke-width="1.3" stroke-linecap="round"/><line x1="466.13" y1="275.97" x2="477.25" y2="284.87" stroke="url(#l21_28)" stroke-width="1.3" stroke-linecap="round"/><line x1="477.25" y1="284.87" x2="502.84" y2="264.84" stroke="url(#l21_29)" stroke-width="1.3" stroke-linecap="round"/><text x="325.3" y="379" font-size="6.6" fill="#111" text-anchor="middle" font-weight="bold">30:05</text><text x="365.3" y="379" font-size="6.6" fill="#111" text-anchor="middle" font-weight="bold">31:05</text><text x="404.3" y="379" font-size="6.6" fill="#111" text-anchor="middle" font-weight="bold">01:06</text><text x="445.4" y="379" font-size="6.6" fill="#111" text-anchor="middle" font-weight="bold">02:06</text><text x="484.4" y="379" font-size="6.6" fill="#111" text-anchor="middle" font-weight="bold">03:06</text></svg></div>
<div class="c" style="left:287px;top:406px;width:235px;height:167px"><svg width="235" height="167" viewBox="287 406 235 167"><defs><linearGradient id="g22a" x1="0" y1="0" x2="0" y2="1"><stop offset="0" stop-color="#2ef0cf"/><stop offset="1" stop-color="#6aa6f6"/></linearGradient><linearGradient id="g22b" x1="0" y1="0" x2="0" y2="1"><stop offset="0" stop-color="#02f2c6"/><stop offset="0.5" stop-color="#12b8dc"/><stop offset="1" stop-color="#2a6ef2"/></linearGradient></defs><text transform="translate(403.8 434.2) scale(0.9 1)" font-size="8.8" fill="#1e1e1e" text-anchor="middle" stroke="#1e1e1e" stroke-width="0.22">BROWSERS</text><polygon points="324.2,513.5 343.7,513.5 334,489.4" fill="url(#g22a)"/><polygon points="358.2,513.5 377.6,513.5 368,467.2" fill="url(#g22a)"/><polygon points="395.4,513.5 415,513.5 405.2,450.5" fill="url(#g22b)"/><polygon points="431.2,513.5 450.6,513.5 441,487.9" fill="url(#g22a)"/><polygon points="463.5,513.5 482.8,513.5 473.2,500.1" fill="url(#g22a)"/><text x="334" y="528" font-size="6.2" fill="#666" text-anchor="middle">OPERA</text><text x="334" y="546.7" font-size="12.4" fill="#666" text-anchor="middle">87</text><text x="368" y="528" font-size="6.2" fill="#666" text-anchor="middle">SAARE</text><text x="368" y="546.7" font-size="12.4" fill="#666" text-anchor="middle">213</text><text x="404.5" y="528" font-size="6.2" fill="#666" text-anchor="middle">OHDME</text><text x="404.5" y="546.7" font-size="12.4" fill="#666" text-anchor="middle">283</text><text x="441" y="528" font-size="6.2" fill="#666" text-anchor="middle">IE</text><text x="441" y="546.7" font-size="12.4" fill="#666" text-anchor="middle">96</text><text x="472.5" y="528" font-size="6.2" fill="#666" text-anchor="middle">FREOS</text><text x="472.5" y="546.7" font-size="12.4" fill="#666" text-anchor="middle">67</text></svg></div>
<div class="c" style="left:287px;top:586px;width:235px;height:187px"><svg width="235" height="187" viewBox="287 586 235 187"><defs><linearGradient id="g23" gradientUnits="userSpaceOnUse" x1="0" y1="652" x2="0" y2="727"><stop offset="0" stop-color="#2a80f2"/><stop offset="0.3" stop-color="#2a94ec"/><stop offset="0.5" stop-color="#28ace2"/><stop offset="0.75" stop-color="#22c8d4"/><stop offset="1" stop-color="#1ee0c4"/></linearGradient></defs><text transform="translate(404.5 616.1) scale(0.92 1)" font-size="9.6" fill="#1e1e1e" text-anchor="middle" stroke="#1e1e1e" stroke-width="0.22">MAY 18 - MAY 24,2014</text><path d="M323,613.5 L314.5,613.5 M318.3,609.7 L314.5,613.5 L318.3,617.3" fill="none" stroke="#333" stroke-width="1"/><path d="M488.5,613.5 L497,613.5 M493.2,609.7 L497,613.5 L493.2,617.3" fill="none" stroke="#333" stroke-width="1"/><line x1="311.5" y1="635" x2="311.5" y2="751" stroke="#e2e2e2" stroke-width="0.8"/><line x1="338.6" y1="635" x2="338.6" y2="751" stroke="#e2e2e2" stroke-width="0.8"/><line x1="365.3" y1="635" x2="365.3" y2="751" stroke="#e2e2e2" stroke-width="0.8"/><line x1="391.6" y1="635" x2="391.6" y2="751" stroke="#e2e2e2" stroke-width="0.8"/><line x1="417.4" y1="635" x2="417.4" y2="751" stroke="#e2e2e2" stroke-width="0.8"/><line x1="443.4" y1="635" x2="443.4" y2="751" stroke="#e2e2e2" stroke-width="0.8"/><line x1="470.6" y1="635" x2="470.6" y2="751" stroke="#e2e2e2" stroke-width="0.8"/><line x1="496.2" y1="635" x2="496.2" y2="751" stroke="#e2e2e2" stroke-width="0.8"/><path d="M311.48,724.96 C312.37,724.07 316.91,721.05 318.15,718.29 C319.4,715.53 320.08,706.2 320.82,704.27 C321.56,702.34 322.88,703.5 323.72,703.82 C324.55,704.15 326.16,707.01 327.05,706.72 C327.94,706.42 329.2,702.87 330.39,701.6 C331.58,700.32 334.47,698.04 335.95,697.15 C337.44,696.26 340.27,696.55 341.52,694.92 C342.76,693.29 344.41,687.49 345.3,684.91 C346.19,682.33 346.92,677.05 348.19,675.56 C349.47,674.08 353.38,674.46 354.87,673.78 C356.35,673.1 357.98,671.48 359.32,670.44 C360.65,669.41 363.4,666.35 364.88,665.99 C366.37,665.64 368.96,667.03 370.44,667.77 C371.93,668.52 374.82,670.9 376.01,671.56 C377.19,672.21 378.16,671.33 379.35,672.67 C380.53,674 383.28,679.94 384.91,681.57 C386.54,683.2 389.21,685.41 391.58,684.91 C393.96,684.4 400.48,678.38 402.71,677.79 C404.94,677.19 406.49,678.86 408.27,680.46 C410.05,682.06 414.43,688.56 416.06,689.8 C417.69,691.05 419.03,690.69 420.51,689.8 C421.99,688.91 425.41,684.23 427.19,683.13 C428.97,682.03 431.79,682.52 433.86,681.57 C435.94,680.62 440.98,676.9 442.76,676.01 C444.54,675.12 445.88,677.57 447.21,674.89 C448.55,672.22 451.29,658.89 452.78,655.98 C454.26,653.07 456.86,653.09 458.34,653.09 C459.82,653.09 462.72,654.26 463.9,655.98 C465.09,657.7 465.76,664.51 467.24,665.99 C468.72,667.48 473.55,665.18 475.03,667.11 C476.51,669.04 477.03,678.08 478.37,680.46 C479.7,682.83 483.71,683.13 485.04,684.91 C486.38,686.69 487.49,689.36 488.38,693.81 C489.27,698.26 490.83,714.13 491.72,718.29 C492.61,722.44 494.61,724.07 495.06,724.96" fill="none" stroke="url(#g23)" stroke-width="3.6" stroke-linecap="round" stroke-linejoin="round"/><text x="324.8" y="749" font-size="6.8" fill="#222" text-anchor="middle">SUN</text><text x="482.8" y="749" font-size="6.8" fill="#222" text-anchor="middle">SAT</text></svg></div>
<div class="c" style="left:287px;top:785px;width:235px;height:292px"><svg width="235" height="292" viewBox="287 785 235 292"><text x="329.7" y="818" font-size="6.4" fill="#111" text-anchor="middle" font-weight="bold">S</text><text x="359.3" y="818" font-size="6.4" fill="#111" text-anchor="middle" font-weight="bold">M</text><text x="389.4" y="818" font-size="6.4" fill="#111" text-anchor="middle" font-weight="bold">T</text><text x="419.8" y="818" font-size="6.4" fill="#111" text-anchor="middle" font-weight="bold">W</text><text x="449.9" y="818" font-size="6.4" fill="#111" text-anchor="middle" font-weight="bold">T</text><text x="478.4" y="818" font-size="6.4" fill="#111" text-anchor="middle" font-weight="bold">F</text><polyline points="287,1003.6 324.2,987.8 352.9,957.8 378.9,968.9 403.8,938 431.9,877.7 456.1,859 483.9,887.9 522,870.1" fill="none" stroke="#22d8c0" stroke-width="1.2"/><circle cx="324.2" cy="987.8" r="4" fill="#2e7ff5"/><circle cx="352.9" cy="957.8" r="4" fill="#2e7ff5"/><circle cx="378.9" cy="968.9" r="4" fill="#2e7ff5"/><circle cx="403.8" cy="938" r="7" fill="#2e7ff5"/><circle cx="431.9" cy="877.7" r="4" fill="#2e7ff5"/><circle cx="456.1" cy="859" r="4" fill="#2e7ff5"/><circle cx="483.9" cy="887.9" r="4" fill="#2e7ff5"/><text x="347.7" y="1026.3" font-size="7.4" fill="#666" text-anchor="middle">VIEWS</text><text x="347.7" y="1047.5" font-size="18.4" fill="#1a1a1a" text-anchor="middle">6489</text><text x="408.7" y="1026.3" font-size="7.4" fill="#666" text-anchor="middle">LIKES</text><text x="408.7" y="1047.5" font-size="18.4" fill="#1a1a1a" text-anchor="middle">286</text><text x="470.8" y="1026.3" font-size="7.4" fill="#666" text-anchor="middle">USERS</text><text x="470.8" y="1047.5" font-size="18.4" fill="#1a1a1a" text-anchor="middle">21</text></svg></div>
<div class="c" style="left:287px;top:1090px;width:235px;height:178px"><svg width="235" height="178" viewBox="287 1090 235 178"><polygon points="331.19,1125.23 337.16,1124.89 357.61,1129.49 383.18,1134.09 410.45,1138.01 417.27,1139.72 421.53,1138.86 425.79,1140.57 427.84,1142.27 424.94,1144.32 428.86,1146.02 431.25,1149.09 432.61,1159.66 434.66,1161.36 435.68,1153.86 438.07,1148.41 442.5,1150.11 444.89,1155.91 443.86,1160.34 448.29,1159.32 455.11,1155.91 461.93,1153.18 465.34,1148.75 468.75,1143.64 473.52,1140.23 476.59,1133.75 478.98,1129.66 483.07,1131.02 485.79,1137.16 480.68,1142.27 477.95,1147.39 473.86,1151.48 471.82,1155.91 470.11,1161.02 469.43,1166.14 471.14,1171.25 468.41,1176.7 465,1183.18 460.23,1191.7 457.5,1198.52 456.82,1205.34 459.89,1212.16 463.29,1218.98 466.36,1225.79 465,1229.54 461.59,1227.84 458.18,1221.02 453.07,1216.59 444.54,1214.2 437.73,1215.57 430.91,1217.27 424.09,1217.61 417.27,1220.68 410.45,1224.09 403.98,1227.84 400.57,1231.25 396.82,1229.54 393.41,1222.73 390,1217.61 384.89,1214.2 379.77,1214.89 374.66,1212.5 366.14,1207.39 357.61,1202.27 349.09,1197.5 342.27,1194.09 332.73,1190.68 327.27,1186.59 323.86,1179.77 321.82,1171.25 320.8,1161.02 322.5,1149.09 325.23,1138.86 328.64,1130.68" fill="#ececec"/><circle cx="337.7" cy="1143.9" r="10" fill="#f5307a"/><text x="337.7" y="1146.78" font-size="8" fill="#fff" text-anchor="middle" font-weight="bold">8</text><circle cx="339.7" cy="1180.1" r="8.9" fill="#2ed8c0"/><text x="339.7" y="1182.98" font-size="8" fill="#fff" text-anchor="middle" font-weight="bold">18</text><circle cx="362.7" cy="1197.9" r="10" fill="#3a82f0"/><text x="362.7" y="1200.78" font-size="8" fill="#fff" text-anchor="middle" font-weight="bold">23</text><circle cx="393.4" cy="1172.3" r="8.5" fill="#2ed8c0"/><text x="393.4" y="1175.18" font-size="8" fill="#fff" text-anchor="middle" font-weight="bold">16</text><circle cx="421.2" cy="1165.7" r="5.6" fill="#3a28e2"/><text x="421.2" y="1168.22" font-size="7" fill="#fff" text-anchor="middle" font-weight="bold">1</text><circle cx="401.2" cy="1208.4" r="6.5" fill="#9a30e8"/><text x="401.2" y="1210.92" font-size="7" fill="#fff" text-anchor="middle" font-weight="bold">2</text><circle cx="437.9" cy="1192.8" r="12" fill="#3a86f2"/><text x="437.9" y="1195.68" font-size="8" fill="#fff" text-anchor="middle" font-weight="bold">41</text><circle cx="462.3" cy="1187.2" r="7.6" fill="#f030b8"/><text x="462.3" y="1190.08" font-size="8" fill="#fff" text-anchor="middle" font-weight="bold">3</text></svg></div>
<div class="c" style="left:287px;top:1281px;width:235px;height:179px"><svg width="235" height="179" viewBox="287 1281 235 179"><defs><linearGradient id="g26" x1="0" y1="0" x2="0" y2="1"><stop offset="0" stop-color="#fbfbfb"/><stop offset="1" stop-color="#e7e7e7"/></linearGradient></defs><rect x="289" y="1282" width="231" height="22" fill="url(#g26)"/><text x="405.6" y="1296.3" font-size="8.8" fill="#333" text-anchor="middle">Total sales</text><text x="404.3" y="1328.2" font-size="14" fill="#2a78f0" text-anchor="middle">$ 98.652</text><line x1="307" y1="1344.4" x2="507" y2="1344.4" stroke="#e8e8e8" stroke-width="0.9"/><line x1="307" y1="1357.3" x2="507" y2="1357.3" stroke="#e8e8e8" stroke-width="0.9"/><line x1="307" y1="1370" x2="507" y2="1370" stroke="#e8e8e8" stroke-width="0.9"/><line x1="307" y1="1382.2" x2="507" y2="1382.2" stroke="#e8e8e8" stroke-width="0.9"/><line x1="307" y1="1395.2" x2="507" y2="1395.2" stroke="#e8e8e8" stroke-width="0.9"/><line x1="307" y1="1407.4" x2="507" y2="1407.4" stroke="#e8e8e8" stroke-width="0.9"/><line x1="307" y1="1420.1" x2="507" y2="1420.1" stroke="#e8e8e8" stroke-width="0.9"/><line x1="307" y1="1432.3" x2="507" y2="1432.3" stroke="#e8e8e8" stroke-width="0.9"/><text x="293.5" y="1357.2" font-size="8.8" fill="#444">30</text><text x="293.5" y="1382.1" font-size="8.8" fill="#444">20</text><text x="293.5" y="1407" font-size="8.8" fill="#444">10</text><polyline points="314.8,1415.6 344.2,1403.4 374.4,1377.8 403.8,1378.2" fill="none" stroke="#2a80f0" stroke-width="1.5"/><polyline points="403.8,1378.2 433.9,1363.8 463.5,1366.9 493.9,1378.9" fill="none" stroke="#22d8c0" stroke-width="1.5"/><circle cx="314.8" cy="1415.6" r="2.4" fill="#2a80f0"/><circle cx="344.2" cy="1403.4" r="2.4" fill="#2a80f0"/><circle cx="374.4" cy="1377.8" r="2.4" fill="#2a80f0"/><circle cx="403.8" cy="1378.2" r="2.4" fill="#22d8c0"/><circle cx="433.9" cy="1363.8" r="2.4" fill="#22d8c0"/><circle cx="463.5" cy="1366.9" r="2.4" fill="#22d8c0"/><circle cx="493.9" cy="1378.9" r="2.4" fill="#22d8c0"/><text x="318.6" y="1446.2" font-size="8.8" fill="#333" text-anchor="middle">S</text><text x="345.3" y="1446.2" font-size="8.8" fill="#333" text-anchor="middle">M</text><text x="377.1" y="1446.2" font-size="8.8" fill="#333" text-anchor="middle">T</text><text x="403.8" y="1446.2" font-size="8.8" fill="#333" text-anchor="middle">W</text><text x="435.6" y="1446.2" font-size="8.8" fill="#333" text-anchor="middle">T</text><text x="466.4" y="1446.2" font-size="8.8" fill="#333" text-anchor="middle">F</text><text x="495.7" y="1446.2" font-size="8.8" fill="#333" text-anchor="middle">S</text></svg></div>
<div class="c" style="left:287px;top:1469px;width:235px;height:265px"><svg width="235" height="265" viewBox="287 1469 235 265"><defs><clipPath id="cp27"><circle cx="402.9" cy="1563.8" r="70"/></clipPath></defs><g clip-path="url(#cp27)"><circle cx="402.9" cy="1563.8" r="70" fill="#c8dbf6"/><path d="M325,1517 C329.62,1516.87 345.95,1516.53 352.7,1516.2 C359.45,1515.87 361.7,1515.13 365.5,1515 C369.3,1514.87 371.95,1514.82 375.5,1515.4 C379.05,1515.98 383.02,1517.48 386.8,1518.5 C390.58,1519.52 394.42,1520.75 398.2,1521.5 C401.98,1522.25 406.43,1522.98 409.5,1523 C412.57,1523.02 413.28,1522.6 416.6,1521.6 C419.92,1520.6 424.9,1518.1 429.4,1517 C433.9,1515.9 438.5,1515.25 443.6,1515 C448.7,1514.75 453.93,1515 460,1515.5 C466.07,1516 476.67,1517.58 480,1518 L480,1640 L325,1640 Z" fill="#8db6f3"/><path d="M325,1514 C329.62,1514.37 344.77,1515.23 352.7,1516.2 C360.63,1517.17 365.73,1518.43 372.6,1519.8 C379.47,1521.17 388.22,1523.37 393.9,1524.4 C399.58,1525.43 402.92,1526.17 406.7,1526 C410.48,1525.83 412.82,1524.73 416.6,1523.4 C420.38,1522.07 424.9,1519.3 429.4,1518 C433.9,1516.7 439.33,1515.68 443.6,1515.6 C447.87,1515.52 448.93,1516.43 455,1517.5 C461.07,1518.57 475.83,1521.25 480,1522 L480,1640 L325,1640 Z" fill="#3d88f2"/></g><text x="404.3" y="1553.2" font-size="25.5" fill="#fff" text-anchor="middle">1890</text><text x="402.7" y="1571.4" font-size="10.6" fill="#fff" text-anchor="middle" stroke="#fff" stroke-width="0.22">Total Score</text><text x="406" y="1602.5" font-size="18.4" fill="#fff" text-anchor="middle">89%</text><text x="403.2" y="1655.1" font-size="6.9" fill="#333" text-anchor="middle" letter-spacing="0.2">TOTAL DESTANCE</text><text x="403.6" y="1670.7" font-size="10.2" fill="#333" text-anchor="middle" letter-spacing="0.45">48 kilomeeters</text><line x1="289" y1="1695.5" x2="520" y2="1695.5" stroke="#e4e4e4" stroke-width="0.9"/><circle cx="307" cy="1713.8" r="4" fill="#0f66f5"/><text x="316" y="1716.6" font-size="7.8" fill="#333" letter-spacing="0.25">SECTION ONE</text><text x="502.8" y="1716.9" font-size="8.4" fill="#333" text-anchor="end">44%</text></svg></div>
<div class="c" style="left:532px;top:217px;width:235px;height:177px"><svg width="235" height="177" viewBox="532 217 235 177"><rect x="566.9" y="253" width="25.8" height="23" fill="#a9c9f6"/><rect x="566.9" y="276.6" width="25.8" height="59.9" fill="#3a88f5"/><rect x="613" y="277.1" width="25.8" height="8.3" fill="#a9c9f6"/><rect x="613" y="286" width="25.8" height="50.5" fill="#3a88f5"/><rect x="660" y="270" width="25.8" height="21.4" fill="#a9c9f6"/><rect x="660" y="292" width="25.8" height="44.5" fill="#3a88f5"/><rect x="706" y="278" width="25.8" height="14.3" fill="#a9c9f6"/><rect x="706" y="292.9" width="25.8" height="43.6" fill="#3a88f5"/><text x="578.7" y="350" font-size="6.3" fill="#222" text-anchor="middle">ONE</text><text x="578.7" y="365.4" font-size="11.6" fill="#111" text-anchor="middle">45</text><text x="626.6" y="350" font-size="6.3" fill="#222" text-anchor="middle">TWO</text><text x="626.6" y="365.4" font-size="11.6" fill="#111" text-anchor="middle">29</text><text x="672.6" y="350" font-size="6.3" fill="#222" text-anchor="middle">THREE</text><text x="672.6" y="365.4" font-size="11.6" fill="#111" text-anchor="middle">34</text><text x="718.9" y="350" font-size="6.3" fill="#222" text-anchor="middle">FOUR</text><text x="718.9" y="365.4" font-size="11.6" fill="#111" text-anchor="middle">16</text></svg></div>
<div class="c" style="left:532px;top:406px;width:235px;height:260px"><svg width="235" height="260" viewBox="532 406 235 260"><circle cx="649.9" cy="498.8" r="53.8" fill="none" stroke="#0dbc9f" stroke-width="14"/><path d="M649.9,445 A53.8,53.8 0 0 1 691.11,533.38" fill="none" stroke="#3a88f5" stroke-width="14" stroke-linecap="round"/><text x="650" y="502.8" font-size="18.4" fill="#1a1a1a" text-anchor="middle">00:01:22</text><text x="650" y="516.9" font-size="6.2" fill="#666" text-anchor="middle">RUNNING</text><circle cx="601" cy="605.9" r="20.4" fill="none" stroke="#0dbc9f" stroke-width="9.3"/><path d="M601.36,585.5 A20.4,20.4 0 0 1 607.3,625.3" fill="none" stroke="#3a88f5" stroke-width="9.3" stroke-linecap="round"/><circle cx="698.1" cy="605.9" r="20.4" fill="none" stroke="#0dbc9f" stroke-width="9.3"/><path d="M699.17,585.53 A20.4,20.4 0 1 1 680.8,616.71" fill="none" stroke="#3a88f5" stroke-width="9.3" stroke-linecap="round"/><text x="601" y="605" font-size="8.6" fill="#222" text-anchor="middle">189</text><text x="601" y="614" font-size="6.2" fill="#555" text-anchor="middle">CAL</text><text x="698.1" y="605" font-size="8.6" fill="#222" text-anchor="middle">0.6</text><text x="698.1" y="614" font-size="6.2" fill="#555" text-anchor="middle">KUI</text></svg></div>
<div class="c" style="left:532px;top:679px;width:235px;height:105px"><svg width="235" height="105" viewBox="532 679 235 105"><text transform="translate(648.8 700.2) scale(0.9 1)" font-size="9" fill="#1e1e1e" text-anchor="middle" stroke="#1e1e1e" stroke-width="0.22">COUNTRIES</text><rect x="560" y="713" width="33" height="18.7" fill="#3a88f5"/><text x="576.5" y="725.4" font-size="8.4" fill="#fff" text-anchor="middle" font-weight="bold">18%</text><rect x="593" y="713" width="36.9" height="18.7" fill="#f05252"/><text x="611.45" y="725.4" font-size="8.4" fill="#fff" text-anchor="middle" font-weight="bold">20%</text><rect x="629.9" y="713" width="56.1" height="18.7" fill="#8a4cc0"/><text x="657.95" y="725.4" font-size="8.4" fill="#fff" text-anchor="middle" font-weight="bold">33%</text><rect x="686" y="713" width="53" height="18.7" fill="#32dcc2"/><text x="712.5" y="725.4" font-size="8.4" fill="#fff" text-anchor="middle" font-weight="bold">29%</text><text x="581" y="747" font-size="6.2" fill="#777" text-anchor="middle">AUSTRALLA</text><text x="581" y="766.4" font-size="14.8" fill="#444" text-anchor="middle">67</text><text x="628.8" y="747" font-size="6.2" fill="#777" text-anchor="middle">EURASIA</text><text x="628.8" y="766.4" font-size="14.8" fill="#444" text-anchor="middle">87</text><text x="673.7" y="747" font-size="6.2" fill="#777" text-anchor="middle">AFFCA</text><text x="673.7" y="766.4" font-size="14.8" fill="#444" text-anchor="middle">238</text><text x="720" y="747" font-size="6.2" fill="#777" text-anchor="middle">AMERICA</text><text x="720" y="766.4" font-size="14.8" fill="#444" text-anchor="middle">193</text></svg></div>
<div class="c" style="left:532px;top:796px;width:235px;height:142px"><svg width="235" height="142" viewBox="532 796 235 142"><text x="648.8" y="822.9" font-size="7" fill="#111" text-anchor="middle">ITALLAN</text><line x1="649.3" y1="833.2" x2="662.6" y2="833.2" stroke="#30d8c0" stroke-width="4.4" stroke-linecap="round"/><line x1="590.2" y1="833.2" x2="647.1" y2="833.2" stroke="#2a7cf0" stroke-width="4.4" stroke-linecap="round"/><rect x="647" y="831" width="2.3" height="4.4" fill="#2a7cf0"/><text x="578.7" y="835.7" font-size="7" fill="#222" text-anchor="middle">4</text><text x="671.7" y="835.7" font-size="7" fill="#222" text-anchor="middle">1</text><text x="648.8" y="861.1" font-size="7" fill="#111" text-anchor="middle">AMERICAN</text><line x1="665" y1="871.4" x2="724.5" y2="871.4" stroke="#30d8c0" stroke-width="4.4" stroke-linecap="round"/><line x1="606.1" y1="871.4" x2="662.8" y2="871.4" stroke="#2a7cf0" stroke-width="4.4" stroke-linecap="round"/><rect x="662.7" y="869.2" width="2.3" height="4.4" fill="#2a7cf0"/><text x="595.4" y="873.9" font-size="7" fill="#222" text-anchor="middle">3</text><text x="733.4" y="873.9" font-size="7" fill="#222" text-anchor="middle">5</text><text x="648.8" y="899" font-size="7" fill="#111" text-anchor="middle">ASIAN</text><line x1="649.9" y1="909.3" x2="676.2" y2="909.3" stroke="#30d8c0" stroke-width="4.4" stroke-linecap="round"/><line x1="623.2" y1="909.3" x2="647.7" y2="909.3" stroke="#2a7cf0" stroke-width="4.4" stroke-linecap="round"/><rect x="647.6" y="907.1" width="2.3" height="4.4" fill="#2a7cf0"/><text x="612.1" y="911.8" font-size="7" fill="#222" text-anchor="middle">2</text><text x="687.8" y="911.8" font-size="7" fill="#222" text-anchor="middle">1</text></svg></div>
<div class="c" style="left:532px;top:951px;width:235px;height:142px"><svg width="235" height="142" viewBox="532 951 235 142"><text x="556.5" y="981.8" font-size="6.6" fill="#222" text-anchor="middle">1</text><polygon points="567.6,974.5 568.89,977.92 572.55,978.09 569.69,980.38 570.66,983.91 567.6,981.9 564.54,983.91 565.51,980.38 562.65,978.09 566.31,977.92" fill="#2a80f0"/><line x1="582" y1="979.4" x2="723.4" y2="979.4" stroke="#ececec" stroke-width="6.7" stroke-linecap="round"/><line x1="582" y1="979.4" x2="598.25" y2="979.4" stroke="#30d9b8" stroke-width="6.7" stroke-linecap="round"/><text x="734" y="981.8" font-size="6.6" fill="#222">8</text><text x="556.5" y="1003.6" font-size="6.6" fill="#222" text-anchor="middle">2</text><polygon points="567.6,996.3 568.89,999.72 572.55,999.89 569.69,1002.18 570.66,1005.71 567.6,1003.7 564.54,1005.71 565.51,1002.18 562.65,999.89 566.31,999.72" fill="#2a80f0"/><line x1="582" y1="1001.2" x2="723.4" y2="1001.2" stroke="#ececec" stroke-width="6.7" stroke-linecap="round"/><line x1="582" y1="1001.2" x2="589.35" y2="1001.2" stroke="#30dcd8" stroke-width="6.7" stroke-linecap="round"/><text x="734" y="1003.6" font-size="6.6" fill="#222">4</text><text x="556.5" y="1024.7" font-size="6.6" fill="#222" text-anchor="middle">3</text><polygon points="567.6,1017.4 568.89,1020.82 572.55,1020.99 569.69,1023.28 570.66,1026.81 567.6,1024.8 564.54,1026.81 565.51,1023.28 562.65,1020.99 566.31,1020.82" fill="#2a80f0"/><line x1="582" y1="1022.3" x2="723.4" y2="1022.3" stroke="#ececec" stroke-width="6.7" stroke-linecap="round"/><line x1="582" y1="1022.3" x2="593.15" y2="1022.3" stroke="#30c0e0" stroke-width="6.7" stroke-linecap="round"/><text x="734" y="1024.7" font-size="6.6" fill="#222">6</text><text x="556.5" y="1046.5" font-size="6.6" fill="#222" text-anchor="middle">4</text><polygon points="567.6,1039.2 568.89,1042.62 572.55,1042.79 569.69,1045.08 570.66,1048.61 567.6,1046.6 564.54,1048.61 565.51,1045.08 562.65,1042.79 566.31,1042.62" fill="#2a80f0"/><line x1="582" y1="1044.1" x2="723.4" y2="1044.1" stroke="#ececec" stroke-width="6.7" stroke-linecap="round"/><line x1="582" y1="1044.1" x2="661.45" y2="1044.1" stroke="#5a9af2" stroke-width="6.7" stroke-linecap="round"/><text x="734" y="1046.5" font-size="6.6" fill="#222">91</text><text x="556.5" y="1067.7" font-size="6.6" fill="#222" text-anchor="middle">5</text><polygon points="567.6,1060.4 568.89,1063.82 572.55,1063.99 569.69,1066.28 570.66,1069.81 567.6,1067.8 564.54,1069.81 565.51,1066.28 562.65,1063.99 566.31,1063.82" fill="#2a80f0"/><line x1="582" y1="1065.3" x2="723.4" y2="1065.3" stroke="#ececec" stroke-width="6.7" stroke-linecap="round"/><line x1="582" y1="1065.3" x2="685.55" y2="1065.3" stroke="#2a7cf0" stroke-width="6.7" stroke-linecap="round"/><text x="734" y="1067.7" font-size="6.6" fill="#222">176</text></svg></div>
<div class="c" style="left:532px;top:1105px;width:235px;height:326px"><svg width="235" height="326" viewBox="532 1105 235 326"><path d="M648.4,1131.2 A63.4,63.4 0 0 1 697.18,1154.1 L678.1,1169.94 A38.6,38.6 0 0 0 648.4,1156 Z" fill="#34e0c4"/><path d="M697.18,1154.1 A63.4,63.4 0 0 1 711.8,1194.6 L687,1194.6 A38.6,38.6 0 0 0 678.1,1169.94 Z" fill="#8a4cc0"/><path d="M711.8,1194.6 A63.4,63.4 0 0 1 623.12,1252.74 L633.01,1230 A38.6,38.6 0 0 0 687,1194.6 Z" fill="#f52a84"/><path d="M623.12,1252.74 A63.4,63.4 0 0 1 648.39,1131.2 L648.39,1156 A38.6,38.6 0 0 0 633.01,1230 Z" fill="#3a88f5"/><text x="648.4" y="1195.8" font-size="18.4" fill="#1a1a1a" text-anchor="middle">98.75</text><text x="648.4" y="1209.7" font-size="6.4" fill="#666" text-anchor="middle">SCORE</text><text x="681.5" y="1129.1" font-size="7" fill="#777" text-anchor="middle">8%</text><text x="720.7" y="1169.8" font-size="7" fill="#777" text-anchor="middle">7%</text><text x="695.6" y="1259.3" font-size="7" fill="#777" text-anchor="middle">41%</text><text x="568.7" y="1185.8" font-size="7" fill="#777" text-anchor="middle">44%</text><line x1="534" y1="1317.8" x2="765" y2="1317.8" stroke="#f3f3f3" stroke-width="0.8"/><line x1="534" y1="1354.6" x2="765" y2="1354.6" stroke="#f3f3f3" stroke-width="0.8"/><line x1="534" y1="1392" x2="765" y2="1392" stroke="#f3f3f3" stroke-width="0.8"/><circle cx="553.1" cy="1300" r="4" fill="#2f80f6"/><text transform="translate(563.2 1302.74) scale(0.9 1)" font-size="7.6" fill="#333">SECTION ONE</text><text x="750" y="1302.74" font-size="7.6" fill="#555" text-anchor="end">44%</text><circle cx="553.1" cy="1336.1" r="4" fill="#2f80f6"/><text transform="translate(563.2 1338.84) scale(0.9 1)" font-size="7.6" fill="#333">SECTION TWO</text><text x="750" y="1338.84" font-size="7.6" fill="#555" text-anchor="end">41%</text><circle cx="553.1" cy="1373" r="4" fill="#2f80f6"/><text transform="translate(563.2 1375.74) scale(0.9 1)" font-size="7.6" fill="#333">SECTION THREE</text><text x="750" y="1375.74" font-size="7.6" fill="#555" text-anchor="end">8%</text><circle cx="553.1" cy="1410.9" r="4" fill="#2f80f6"/><text transform="translate(563.2 1413.64) scale(0.9 1)" font-size="7.6" fill="#333">SECTION FOUR</text><text x="750" y="1413.64" font-size="7.6" fill="#555" text-anchor="end">7%</text></svg></div>
<div class="c" style="left:532px;top:1445px;width:235px;height:290px"><svg width="235" height="290" viewBox="532 1445 235 290"><path d="M648.4,1470.7 A63.4,63.4 0 0 1 697.18,1493.6 L678.1,1509.44 A38.6,38.6 0 0 0 648.4,1495.5 Z" fill="#34e0c4"/><path d="M697.18,1493.6 A63.4,63.4 0 0 1 711.8,1534.1 L687,1534.1 A38.6,38.6 0 0 0 678.1,1509.44 Z" fill="#8a4cc0"/><path d="M711.8,1534.1 A63.4,63.4 0 0 1 623.12,1592.24 L633.01,1569.5 A38.6,38.6 0 0 0 687,1534.1 Z" fill="#f52a84"/><path d="M623.12,1592.24 A63.4,63.4 0 0 1 648.39,1470.7 L648.39,1495.5 A38.6,38.6 0 0 0 633.01,1569.5 Z" fill="#3a88f5"/><text x="648.4" y="1535.2" font-size="18.4" fill="#1a1a1a" text-anchor="middle">154</text><text x="648.4" y="1548.7" font-size="6.4" fill="#666" text-anchor="middle">SALES</text><circle cx="583.8" cy="1639.2" r="4" fill="#2f80f6"/><text transform="translate(593.9 1641.94) scale(0.9 1)" font-size="7.6" fill="#333">SECTION ONE</text><text x="720" y="1641.94" font-size="7.6" fill="#555" text-anchor="end">44%</text><circle cx="583.8" cy="1663.2" r="4" fill="#2f80f6"/><text transform="translate(593.9 1665.94) scale(0.9 1)" font-size="7.6" fill="#333">SECTION TWO</text><text x="720" y="1665.94" font-size="7.6" fill="#555" text-anchor="end">44%</text><circle cx="583.8" cy="1688.1" r="4" fill="#2f80f6"/><text transform="translate(593.9 1690.84) scale(0.9 1)" font-size="7.6" fill="#333">SECTION THREE</text><text x="720" y="1690.84" font-size="7.6" fill="#555" text-anchor="end">8%</text><circle cx="583.8" cy="1713.2" r="4" fill="#2f80f6"/><text transform="translate(593.9 1715.94) scale(0.9 1)" font-size="7.6" fill="#333">SECTION FOUR</text><text x="720" y="1715.94" font-size="7.6" fill="#555" text-anchor="end">7%</text></svg></div>
<div class="c" style="left:779px;top:217px;width:235px;height:177px"><svg width="235" height="177" viewBox="779 217 235 177"><path d="M855.2,239 A21.2,21.2 0 0 1 857.27,239.07" fill="none" stroke="#20e9c7" stroke-width="2.8"/><path d="M856.68,239.03 A21.2,21.2 0 0 1 858.74,239.25" fill="none" stroke="#20e8c8" stroke-width="2.8"/><path d="M858.16,239.17 A21.2,21.2 0 0 1 860.2,239.53" fill="none" stroke="#20e6c9" stroke-width="2.8"/><path d="M859.62,239.4 A21.2,21.2 0 0 1 861.63,239.9" fill="none" stroke="#20e4ca" stroke-width="2.8"/><path d="M861.06,239.74 A21.2,21.2 0 0 1 863.03,240.38" fill="none" stroke="#20e3cc" stroke-width="2.8"/><path d="M862.47,240.18 A21.2,21.2 0 0 1 864.39,240.96" fill="none" stroke="#20e1cd" stroke-width="2.8"/><path d="M863.85,240.71 A21.2,21.2 0 0 1 865.71,241.62" fill="none" stroke="#1fe0ce" stroke-width="2.8"/><path d="M865.19,241.34 A21.2,21.2 0 0 1 866.98,242.38" fill="none" stroke="#1fdecf" stroke-width="2.8"/><path d="M866.48,242.07 A21.2,21.2 0 0 1 868.2,243.22" fill="none" stroke="#1fdcd1" stroke-width="2.8"/><path d="M867.72,242.88 A21.2,21.2 0 0 1 869.35,244.15" fill="none" stroke="#1fdbd2" stroke-width="2.8"/><path d="M868.9,243.77 A21.2,21.2 0 0 1 870.44,245.16" fill="none" stroke="#1fd9d3" stroke-width="2.8"/><path d="M870.01,244.75 A21.2,21.2 0 0 1 871.45,246.24" fill="none" stroke="#1fd8d4" stroke-width="2.8"/><path d="M871.06,245.8 A21.2,21.2 0 0 1 872.39,247.38" fill="none" stroke="#1fd6d6" stroke-width="2.8"/><path d="M872.02,246.92 A21.2,21.2 0 0 1 873.24,248.59" fill="none" stroke="#1fd4d7" stroke-width="2.8"/><path d="M872.91,248.1 A21.2,21.2 0 0 1 874.01,249.86" fill="none" stroke="#1fd3d8" stroke-width="2.8"/><path d="M873.71,249.34 A21.2,21.2 0 0 1 874.68,251.17" fill="none" stroke="#1fd1d9" stroke-width="2.8"/><path d="M874.42,250.64 A21.2,21.2 0 0 1 875.27,252.53" fill="none" stroke="#1fd0db" stroke-width="2.8"/><path d="M875.04,251.98 A21.2,21.2 0 0 1 875.75,253.93" fill="none" stroke="#1ecedc" stroke-width="2.8"/><path d="M875.57,253.37 A21.2,21.2 0 0 1 876.14,255.36" fill="none" stroke="#1eccdd" stroke-width="2.8"/><path d="M876,254.78 A21.2,21.2 0 0 1 876.43,256.81" fill="none" stroke="#1ecbde" stroke-width="2.8"/><path d="M876.32,256.23 A21.2,21.2 0 0 1 876.61,258.28" fill="none" stroke="#1ec9e0" stroke-width="2.8"/><path d="M876.55,257.69 A21.2,21.2 0 0 1 876.7,259.76" fill="none" stroke="#1ec8e1" stroke-width="2.8"/><path d="M876.67,259.16 A21.2,21.2 0 0 1 876.67,261.24" fill="none" stroke="#1ec6e2" stroke-width="2.8"/><path d="M876.7,260.64 A21.2,21.2 0 0 1 876.55,262.71" fill="none" stroke="#1fc3e3" stroke-width="2.8"/><path d="M876.61,262.12 A21.2,21.2 0 0 1 876.32,264.17" fill="none" stroke="#1fbfe3" stroke-width="2.8"/><path d="M876.43,263.59 A21.2,21.2 0 0 1 876,265.62" fill="none" stroke="#20bce4" stroke-width="2.8"/><path d="M876.14,265.04 A21.2,21.2 0 0 1 875.57,267.03" fill="none" stroke="#20b8e4" stroke-width="2.8"/><path d="M875.75,266.47 A21.2,21.2 0 0 1 875.04,268.42" fill="none" stroke="#21b5e5" stroke-width="2.8"/><path d="M875.27,267.87 A21.2,21.2 0 0 1 874.42,269.76" fill="none" stroke="#21b1e6" stroke-width="2.8"/><path d="M874.68,269.23 A21.2,21.2 0 0 1 873.71,271.06" fill="none" stroke="#22aee6" stroke-width="2.8"/><path d="M874.01,270.54 A21.2,21.2 0 0 1 872.91,272.3" fill="none" stroke="#22aae7" stroke-width="2.8"/><path d="M873.24,271.81 A21.2,21.2 0 0 1 872.02,273.48" fill="none" stroke="#23a7e8" stroke-width="2.8"/><path d="M872.39,273.02 A21.2,21.2 0 0 1 871.06,274.6" fill="none" stroke="#23a3e8" stroke-width="2.8"/><path d="M871.45,274.16 A21.2,21.2 0 0 1 870.01,275.65" fill="none" stroke="#24a0e9" stroke-width="2.8"/><path d="M870.44,275.24 A21.2,21.2 0 0 1 868.9,276.63" fill="none" stroke="#249ce9" stroke-width="2.8"/><path d="M869.35,276.25 A21.2,21.2 0 0 1 867.72,277.52" fill="none" stroke="#2599ea" stroke-width="2.8"/><path d="M868.2,277.18 A21.2,21.2 0 0 1 866.48,278.33" fill="none" stroke="#2595eb" stroke-width="2.8"/><path d="M866.98,278.02 A21.2,21.2 0 0 1 865.19,279.06" fill="none" stroke="#2692eb" stroke-width="2.8"/><path d="M865.71,278.78 A21.2,21.2 0 0 1 863.85,279.69" fill="none" stroke="#278fec" stroke-width="2.8"/><path d="M864.39,279.44 A21.2,21.2 0 0 1 862.47,280.22" fill="none" stroke="#278bed" stroke-width="2.8"/><path d="M863.03,280.02 A21.2,21.2 0 0 1 861.06,280.66" fill="none" stroke="#2888ed" stroke-width="2.8"/><path d="M861.63,280.5 A21.2,21.2 0 0 1 859.62,281" fill="none" stroke="#2884ee" stroke-width="2.8"/><path d="M860.2,280.87 A21.2,21.2 0 0 1 858.16,281.23" fill="none" stroke="#2981ee" stroke-width="2.8"/><path d="M858.74,281.15 A21.2,21.2 0 0 1 856.68,281.37" fill="none" stroke="#297def" stroke-width="2.8"/><path d="M857.27,281.33 A21.2,21.2 0 0 1 855.2,281.4" fill="none" stroke="#2a7af0" stroke-width="2.8"/><path d="M855.8,281.4 A21.2,21.2 0 0 1 853.73,281.33" fill="none" stroke="#2a79f0" stroke-width="2.8"/><path d="M854.32,281.37 A21.2,21.2 0 0 1 852.26,281.15" fill="none" stroke="#297cef" stroke-width="2.8"/><path d="M852.84,281.23 A21.2,21.2 0 0 1 850.8,280.87" fill="none" stroke="#297fef" stroke-width="2.8"/><path d="M851.38,281 A21.2,21.2 0 0 1 849.37,280.5" fill="none" stroke="#2882ee" stroke-width="2.8"/><path d="M849.94,280.66 A21.2,21.2 0 0 1 847.97,280.02" fill="none" stroke="#2885ee" stroke-width="2.8"/><path d="M848.53,280.22 A21.2,21.2 0 0 1 846.61,279.44" fill="none" stroke="#2788ee" stroke-width="2.8"/><path d="M847.15,279.69 A21.2,21.2 0 0 1 845.29,278.78" fill="none" stroke="#268bed" stroke-width="2.8"/><path d="M845.81,279.06 A21.2,21.2 0 0 1 844.02,278.02" fill="none" stroke="#268eed" stroke-width="2.8"/><path d="M844.52,278.33 A21.2,21.2 0 0 1 842.8,277.18" fill="none" stroke="#2591ec" stroke-width="2.8"/><path d="M843.28,277.52 A21.2,21.2 0 0 1 841.65,276.25" fill="none" stroke="#2594ec" stroke-width="2.8"/><path d="M842.1,276.63 A21.2,21.2 0 0 1 840.56,275.24" fill="none" stroke="#2497eb" stroke-width="2.8"/><path d="M840.99,275.65 A21.2,21.2 0 0 1 839.55,274.16" fill="none" stroke="#2499eb" stroke-width="2.8"/><path d="M839.94,274.6 A21.2,21.2 0 0 1 838.61,273.02" fill="none" stroke="#239cea" stroke-width="2.8"/><path d="M838.98,273.48 A21.2,21.2 0 0 1 837.76,271.81" fill="none" stroke="#239fea" stroke-width="2.8"/><path d="M838.09,272.3 A21.2,21.2 0 0 1 836.99,270.54" fill="none" stroke="#22a2e9" stroke-width="2.8"/><path d="M837.29,271.06 A21.2,21.2 0 0 1 836.32,269.23" fill="none" stroke="#22a5e9" stroke-width="2.8"/><path d="M836.58,269.76 A21.2,21.2 0 0 1 835.73,267.87" fill="none" stroke="#21a8e8" stroke-width="2.8"/><path d="M835.96,268.42 A21.2,21.2 0 0 1 835.25,266.47" fill="none" stroke="#20abe8" stroke-width="2.8"/><path d="M835.43,267.03 A21.2,21.2 0 0 1 834.86,265.04" fill="none" stroke="#20aee8" stroke-width="2.8"/><path d="M835,265.62 A21.2,21.2 0 0 1 834.57,263.59" fill="none" stroke="#1fb1e7" stroke-width="2.8"/><path d="M834.68,264.17 A21.2,21.2 0 0 1 834.39,262.12" fill="none" stroke="#1fb4e7" stroke-width="2.8"/><path d="M834.45,262.71 A21.2,21.2 0 0 1 834.3,260.64" fill="none" stroke="#1eb7e6" stroke-width="2.8"/><path d="M834.33,261.24 A21.2,21.2 0 0 1 834.33,259.16" fill="none" stroke="#f6d24c" stroke-width="2.8"/><path d="M834.3,259.76 A21.2,21.2 0 0 1 834.45,257.69" fill="none" stroke="#f6d24c" stroke-width="2.8"/><path d="M834.39,258.28 A21.2,21.2 0 0 1 834.68,256.23" fill="none" stroke="#f6d24c" stroke-width="2.8"/><path d="M834.57,256.81 A21.2,21.2 0 0 1 835,254.78" fill="none" stroke="#f6d24c" stroke-width="2.8"/><path d="M834.86,255.36 A21.2,21.2 0 0 1 835.43,253.37" fill="none" stroke="#f6d24c" stroke-width="2.8"/><path d="M835.25,253.93 A21.2,21.2 0 0 1 835.96,251.98" fill="none" stroke="#f6d24c" stroke-width="2.8"/><path d="M835.73,252.53 A21.2,21.2 0 0 1 836.58,250.64" fill="none" stroke="#f6d24c" stroke-width="2.8"/><path d="M836.32,251.17 A21.2,21.2 0 0 1 837.29,249.34" fill="none" stroke="#f6d24c" stroke-width="2.8"/><path d="M836.99,249.86 A21.2,21.2 0 0 1 838.09,248.1" fill="none" stroke="#f6d24c" stroke-width="2.8"/><path d="M837.76,248.59 A21.2,21.2 0 0 1 838.98,246.92" fill="none" stroke="#f6d24c" stroke-width="2.8"/><path d="M838.61,247.38 A21.2,21.2 0 0 1 839.94,245.8" fill="none" stroke="#f6d24c" stroke-width="2.8"/><path d="M839.55,246.24 A21.2,21.2 0 0 1 840.99,244.75" fill="none" stroke="#f6d24c" stroke-width="2.8"/><path d="M840.56,245.16 A21.2,21.2 0 0 1 842.1,243.77" fill="none" stroke="#f6d24c" stroke-width="2.8"/><path d="M841.65,244.15 A21.2,21.2 0 0 1 843.28,242.88" fill="none" stroke="#f6d24c" stroke-width="2.8"/><path d="M842.8,243.22 A21.2,21.2 0 0 1 844.52,242.07" fill="none" stroke="#f6d24c" stroke-width="2.8"/><path d="M844.02,242.38 A21.2,21.2 0 0 1 845.81,241.34" fill="none" stroke="#f6d24c" stroke-width="2.8"/><path d="M845.29,241.62 A21.2,21.2 0 0 1 847.15,240.71" fill="none" stroke="#f6d24c" stroke-width="2.8"/><path d="M846.61,240.96 A21.2,21.2 0 0 1 848.53,240.18" fill="none" stroke="#f6d24c" stroke-width="2.8"/><path d="M847.97,240.38 A21.2,21.2 0 0 1 849.94,239.74" fill="none" stroke="#f6d24c" stroke-width="2.8"/><path d="M849.37,239.9 A21.2,21.2 0 0 1 851.38,239.4" fill="none" stroke="#f6d24c" stroke-width="2.8"/><path d="M850.8,239.53 A21.2,21.2 0 0 1 852.84,239.17" fill="none" stroke="#f6d24c" stroke-width="2.8"/><path d="M852.26,239.25 A21.2,21.2 0 0 1 854.32,239.03" fill="none" stroke="#f6d24c" stroke-width="2.8"/><path d="M853.73,239.07 A21.2,21.2 0 0 1 855.8,239" fill="none" stroke="#f6d24c" stroke-width="2.8"/><path d="M935.4,239 A21.2,21.2 0 0 1 937.47,239.07" fill="none" stroke="#20e9c7" stroke-width="2.8"/><path d="M936.88,239.03 A21.2,21.2 0 0 1 938.94,239.25" fill="none" stroke="#20e8c8" stroke-width="2.8"/><path d="M938.36,239.17 A21.2,21.2 0 0 1 940.4,239.53" fill="none" stroke="#20e6c9" stroke-width="2.8"/><path d="M939.82,239.4 A21.2,21.2 0 0 1 941.83,239.9" fill="none" stroke="#20e4ca" stroke-width="2.8"/><path d="M941.26,239.74 A21.2,21.2 0 0 1 943.23,240.38" fill="none" stroke="#20e3cc" stroke-width="2.8"/><path d="M942.67,240.18 A21.2,21.2 0 0 1 944.59,240.96" fill="none" stroke="#20e1cd" stroke-width="2.8"/><path d="M944.05,240.71 A21.2,21.2 0 0 1 945.91,241.62" fill="none" stroke="#1fe0ce" stroke-width="2.8"/><path d="M945.39,241.34 A21.2,21.2 0 0 1 947.18,242.38" fill="none" stroke="#1fdecf" stroke-width="2.8"/><path d="M946.68,242.07 A21.2,21.2 0 0 1 948.4,243.22" fill="none" stroke="#1fdcd1" stroke-width="2.8"/><path d="M947.92,242.88 A21.2,21.2 0 0 1 949.55,244.15" fill="none" stroke="#1fdbd2" stroke-width="2.8"/><path d="M949.1,243.77 A21.2,21.2 0 0 1 950.64,245.16" fill="none" stroke="#1fd9d3" stroke-width="2.8"/><path d="M950.21,244.75 A21.2,21.2 0 0 1 951.65,246.24" fill="none" stroke="#1fd8d4" stroke-width="2.8"/><path d="M951.26,245.8 A21.2,21.2 0 0 1 952.59,247.38" fill="none" stroke="#1fd6d6" stroke-width="2.8"/><path d="M952.22,246.92 A21.2,21.2 0 0 1 953.44,248.59" fill="none" stroke="#1fd4d7" stroke-width="2.8"/><path d="M953.11,248.1 A21.2,21.2 0 0 1 954.21,249.86" fill="none" stroke="#1fd3d8" stroke-width="2.8"/><path d="M953.91,249.34 A21.2,21.2 0 0 1 954.88,251.17" fill="none" stroke="#1fd1d9" stroke-width="2.8"/><path d="M954.62,250.64 A21.2,21.2 0 0 1 955.47,252.53" fill="none" stroke="#1fd0db" stroke-width="2.8"/><path d="M955.24,251.98 A21.2,21.2 0 0 1 955.95,253.93" fill="none" stroke="#1ecedc" stroke-width="2.8"/><path d="M955.77,253.37 A21.2,21.2 0 0 1 956.34,255.36" fill="none" stroke="#1eccdd" stroke-width="2.8"/><path d="M956.2,254.78 A21.2,21.2 0 0 1 956.63,256.81" fill="none" stroke="#1ecbde" stroke-width="2.8"/><path d="M956.52,256.23 A21.2,21.2 0 0 1 956.81,258.28" fill="none" stroke="#1ec9e0" stroke-width="2.8"/><path d="M956.75,257.69 A21.2,21.2 0 0 1 956.9,259.76" fill="none" stroke="#1ec8e1" stroke-width="2.8"/><path d="M956.87,259.16 A21.2,21.2 0 0 1 956.87,261.24" fill="none" stroke="#1ec6e2" stroke-width="2.8"/><path d="M956.9,260.64 A21.2,21.2 0 0 1 956.75,262.71" fill="none" stroke="#1fc3e3" stroke-width="2.8"/><path d="M956.81,262.12 A21.2,21.2 0 0 1 956.52,264.17" fill="none" stroke="#1fbfe3" stroke-width="2.8"/><path d="M956.63,263.59 A21.2,21.2 0 0 1 956.2,265.62" fill="none" stroke="#20bce4" stroke-width="2.8"/><path d="M956.34,265.04 A21.2,21.2 0 0 1 955.77,267.03" fill="none" stroke="#20b8e4" stroke-width="2.8"/><path d="M955.95,266.47 A21.2,21.2 0 0 1 955.24,268.42" fill="none" stroke="#21b5e5" stroke-width="2.8"/><path d="M955.47,267.87 A21.2,21.2 0 0 1 954.62,269.76" fill="none" stroke="#21b1e6" stroke-width="2.8"/><path d="M954.88,269.23 A21.2,21.2 0 0 1 953.91,271.06" fill="none" stroke="#22aee6" stroke-width="2.8"/><path d="M954.21,270.54 A21.2,21.2 0 0 1 953.11,272.3" fill="none" stroke="#22aae7" stroke-width="2.8"/><path d="M953.44,271.81 A21.2,21.2 0 0 1 952.22,273.48" fill="none" stroke="#23a7e8" stroke-width="2.8"/><path d="M952.59,273.02 A21.2,21.2 0 0 1 951.26,274.6" fill="none" stroke="#23a3e8" stroke-width="2.8"/><path d="M951.65,274.16 A21.2,21.2 0 0 1 950.21,275.65" fill="none" stroke="#24a0e9" stroke-width="2.8"/><path d="M950.64,275.24 A21.2,21.2 0 0 1 949.1,276.63" fill="none" stroke="#249ce9" stroke-width="2.8"/><path d="M949.55,276.25 A21.2,21.2 0 0 1 947.92,277.52" fill="none" stroke="#2599ea" stroke-width="2.8"/><path d="M948.4,277.18 A21.2,21.2 0 0 1 946.68,278.33" fill="none" stroke="#2595eb" stroke-width="2.8"/><path d="M947.18,278.02 A21.2,21.2 0 0 1 945.39,279.06" fill="none" stroke="#2692eb" stroke-width="2.8"/><path d="M945.91,278.78 A21.2,21.2 0 0 1 944.05,279.69" fill="none" stroke="#278fec" stroke-width="2.8"/><path d="M944.59,279.44 A21.2,21.2 0 0 1 942.67,280.22" fill="none" stroke="#278bed" stroke-width="2.8"/><path d="M943.23,280.02 A21.2,21.2 0 0 1 941.26,280.66" fill="none" stroke="#2888ed" stroke-width="2.8"/><path d="M941.83,280.5 A21.2,21.2 0 0 1 939.82,281" fill="none" stroke="#2884ee" stroke-width="2.8"/><path d="M940.4,280.87 A21.2,21.2 0 0 1 938.36,281.23" fill="none" stroke="#2981ee" stroke-width="2.8"/><path d="M938.94,281.15 A21.2,21.2 0 0 1 936.88,281.37" fill="none" stroke="#297def" stroke-width="2.8"/><path d="M937.47,281.33 A21.2,21.2 0 0 1 935.4,281.4" fill="none" stroke="#2a7af0" stroke-width="2.8"/><path d="M936,281.4 A21.2,21.2 0 0 1 933.93,281.33" fill="none" stroke="#2a79f0" stroke-width="2.8"/><path d="M934.52,281.37 A21.2,21.2 0 0 1 932.46,281.15" fill="none" stroke="#297cef" stroke-width="2.8"/><path d="M933.04,281.23 A21.2,21.2 0 0 1 931,280.87" fill="none" stroke="#297fef" stroke-width="2.8"/><path d="M931.58,281 A21.2,21.2 0 0 1 929.57,280.5" fill="none" stroke="#2882ee" stroke-width="2.8"/><path d="M930.14,280.66 A21.2,21.2 0 0 1 928.17,280.02" fill="none" stroke="#2885ee" stroke-width="2.8"/><path d="M928.73,280.22 A21.2,21.2 0 0 1 926.81,279.44" fill="none" stroke="#2788ee" stroke-width="2.8"/><path d="M927.35,279.69 A21.2,21.2 0 0 1 925.49,278.78" fill="none" stroke="#268bed" stroke-width="2.8"/><path d="M926.01,279.06 A21.2,21.2 0 0 1 924.22,278.02" fill="none" stroke="#268eed" stroke-width="2.8"/><path d="M924.72,278.33 A21.2,21.2 0 0 1 923,277.18" fill="none" stroke="#2591ec" stroke-width="2.8"/><path d="M923.48,277.52 A21.2,21.2 0 0 1 921.85,276.25" fill="none" stroke="#2594ec" stroke-width="2.8"/><path d="M922.3,276.63 A21.2,21.2 0 0 1 920.76,275.24" fill="none" stroke="#2497eb" stroke-width="2.8"/><path d="M921.19,275.65 A21.2,21.2 0 0 1 919.75,274.16" fill="none" stroke="#2499eb" stroke-width="2.8"/><path d="M920.14,274.6 A21.2,21.2 0 0 1 918.81,273.02" fill="none" stroke="#239cea" stroke-width="2.8"/><path d="M919.18,273.48 A21.2,21.2 0 0 1 917.96,271.81" fill="none" stroke="#239fea" stroke-width="2.8"/><path d="M918.29,272.3 A21.2,21.2 0 0 1 917.19,270.54" fill="none" stroke="#22a2e9" stroke-width="2.8"/><path d="M917.49,271.06 A21.2,21.2 0 0 1 916.52,269.23" fill="none" stroke="#22a5e9" stroke-width="2.8"/><path d="M916.78,269.76 A21.2,21.2 0 0 1 915.93,267.87" fill="none" stroke="#21a8e8" stroke-width="2.8"/><path d="M916.16,268.42 A21.2,21.2 0 0 1 915.45,266.47" fill="none" stroke="#20abe8" stroke-width="2.8"/><path d="M915.63,267.03 A21.2,21.2 0 0 1 915.06,265.04" fill="none" stroke="#20aee8" stroke-width="2.8"/><path d="M915.2,265.62 A21.2,21.2 0 0 1 914.77,263.59" fill="none" stroke="#1fb1e7" stroke-width="2.8"/><path d="M914.88,264.17 A21.2,21.2 0 0 1 914.59,262.12" fill="none" stroke="#1fb4e7" stroke-width="2.8"/><path d="M914.65,262.71 A21.2,21.2 0 0 1 914.5,260.64" fill="none" stroke="#1eb7e6" stroke-width="2.8"/><path d="M914.53,261.24 A21.2,21.2 0 0 1 914.53,259.16" fill="none" stroke="#f6d24c" stroke-width="2.8"/><path d="M914.5,259.76 A21.2,21.2 0 0 1 914.65,257.69" fill="none" stroke="#f6d24c" stroke-width="2.8"/><path d="M914.59,258.28 A21.2,21.2 0 0 1 914.88,256.23" fill="none" stroke="#f6d24c" stroke-width="2.8"/><path d="M914.77,256.81 A21.2,21.2 0 0 1 915.2,254.78" fill="none" stroke="#f6d24c" stroke-width="2.8"/><path d="M915.06,255.36 A21.2,21.2 0 0 1 915.63,253.37" fill="none" stroke="#f6d24c" stroke-width="2.8"/><path d="M915.45,253.93 A21.2,21.2 0 0 1 916.16,251.98" fill="none" stroke="#f6d24c" stroke-width="2.8"/><path d="M915.93,252.53 A21.2,21.2 0 0 1 916.78,250.64" fill="none" stroke="#f6d24c" stroke-width="2.8"/><path d="M916.52,251.17 A21.2,21.2 0 0 1 917.49,249.34" fill="none" stroke="#f6d24c" stroke-width="2.8"/><path d="M917.19,249.86 A21.2,21.2 0 0 1 918.29,248.1" fill="none" stroke="#f6d24c" stroke-width="2.8"/><path d="M917.96,248.59 A21.2,21.2 0 0 1 919.18,246.92" fill="none" stroke="#f6d24c" stroke-width="2.8"/><path d="M918.81,247.38 A21.2,21.2 0 0 1 920.14,245.8" fill="none" stroke="#f6d24c" stroke-width="2.8"/><path d="M919.75,246.24 A21.2,21.2 0 0 1 921.19,244.75" fill="none" stroke="#f6d24c" stroke-width="2.8"/><path d="M920.76,245.16 A21.2,21.2 0 0 1 922.3,243.77" fill="none" stroke="#f6d24c" stroke-width="2.8"/><path d="M921.85,244.15 A21.2,21.2 0 0 1 923.48,242.88" fill="none" stroke="#f6d24c" stroke-width="2.8"/><path d="M923,243.22 A21.2,21.2 0 0 1 924.72,242.07" fill="none" stroke="#f6d24c" stroke-width="2.8"/><path d="M924.22,242.38 A21.2,21.2 0 0 1 926.01,241.34" fill="none" stroke="#f6d24c" stroke-width="2.8"/><path d="M925.49,241.62 A21.2,21.2 0 0 1 927.35,240.71" fill="none" stroke="#f6d24c" stroke-width="2.8"/><path d="M926.81,240.96 A21.2,21.2 0 0 1 928.73,240.18" fill="none" stroke="#f6d24c" stroke-width="2.8"/><path d="M928.17,240.38 A21.2,21.2 0 0 1 930.14,239.74" fill="none" stroke="#f6d24c" stroke-width="2.8"/><path d="M929.57,239.9 A21.2,21.2 0 0 1 931.58,239.4" fill="none" stroke="#f6d24c" stroke-width="2.8"/><path d="M931,239.53 A21.2,21.2 0 0 1 933.04,239.17" fill="none" stroke="#f6d24c" stroke-width="2.8"/><path d="M932.46,239.25 A21.2,21.2 0 0 1 934.52,239.03" fill="none" stroke="#f6d24c" stroke-width="2.8"/><path d="M933.93,239.07 A21.2,21.2 0 0 1 936,239" fill="none" stroke="#f6d24c" stroke-width="2.8"/><text x="855.5" y="263.2" font-size="6.3" fill="#222" text-anchor="middle" stroke="#222" stroke-width="0.22">+75%</text><text x="935.7" y="263.2" font-size="6.3" fill="#222" text-anchor="middle" stroke="#222" stroke-width="0.22">+75%</text><text x="855.8" y="299.3" font-size="8.6" fill="#444" text-anchor="middle">Weekiy Change</text><text x="935.9" y="299.3" font-size="8.6" fill="#444" text-anchor="middle">Weekiy Change</text><line x1="781" y1="318.2" x2="1012" y2="318.2" stroke="#e4e4e4" stroke-width="0.9"/><line x1="781" y1="355.4" x2="1012" y2="355.4" stroke="#e4e4e4" stroke-width="0.9"/><circle cx="799" cy="336.7" r="6" fill="#3a82f5"/><text transform="translate(814.2 339.5) scale(0.97 1)" font-size="7.8" fill="#333">FOLLOWERS</text><text x="1001" y="341.3" font-size="12.8" fill="#333" text-anchor="end">1452</text><circle cx="799" cy="373.9" r="6" fill="#3a82f5"/><text transform="translate(814.2 376.7) scale(0.97 1)" font-size="7.8" fill="#333">FOLLOWERS</text><text x="1001" y="378.5" font-size="12.8" fill="#333" text-anchor="end">67</text></svg></div>
<div class="c" style="left:779px;top:406px;width:235px;height:189px"><svg width="235" height="189" viewBox="779 406 235 189"><defs><linearGradient id="g42" x1="0" y1="0" x2="0" y2="1"><stop offset="0" stop-color="#22e0cc"/><stop offset="1" stop-color="#2aa2ee"/></linearGradient></defs><line x1="781" y1="469.4" x2="1012" y2="469.4" stroke="#e4e4e4" stroke-width="0.9"/><line x1="781" y1="531.3" x2="1012" y2="531.3" stroke="#e4e4e4" stroke-width="0.9"/><text transform="translate(798.6 429.9) scale(0.89 1)" font-size="6.4" fill="#666">VIEWS</text><text x="797.5" y="450.5" font-size="18.4" fill="#1a1a1a">6489</text><circle cx="870.2" cy="427.6" r="2.4" fill="#2f80f6"/><text transform="translate(876.9 429.9) scale(0.87 1)" font-size="6.6" fill="#1a1a1a" text-anchor="medium">NEW</text><circle cx="899.4" cy="427.6" r="2.4" fill="#2f80f6"/><text transform="translate(905.8 429.9) scale(0.87 1)" font-size="6.6" fill="#1a1a1a" text-anchor="medium">RETURN</text><text transform="translate(798.6 491.7) scale(0.89 1)" font-size="6.4" fill="#666">LIKES</text><text x="797.5" y="512.8" font-size="18.4" fill="#1a1a1a">286</text><circle cx="870.2" cy="489.4" r="2.4" fill="#2f80f6"/><text transform="translate(876.9 491.7) scale(0.87 1)" font-size="6.6" fill="#1a1a1a" text-anchor="medium">FFEENOB</text><circle cx="910.3" cy="489.4" r="2.4" fill="#2f80f6"/><text transform="translate(917 491.7) scale(0.87 1)" font-size="6.6" fill="#1a1a1a" text-anchor="medium">OTHER</text><text transform="translate(798.6 554.1) scale(0.89 1)" font-size="6.4" fill="#666">FOLLOWERS</text><text x="797.5" y="574.4" font-size="18.4" fill="#1a1a1a">83</text><circle cx="870.2" cy="551.8" r="2.4" fill="#2f80f6"/><text transform="translate(876.9 554.1) scale(0.87 1)" font-size="6.6" fill="#1a1a1a" text-anchor="medium">PAOFLE</text><circle cx="909.6" cy="551.8" r="2.4" fill="#2f80f6"/><text transform="translate(915.8 554.1) scale(0.87 1)" font-size="6.6" fill="#1a1a1a" text-anchor="medium">FEEO</text><polyline points="866.23,448.72 872.9,444.27 878.69,447.17 885.14,440.49 891.37,446.05 897.6,452.06 904.06,446.05 910.29,439.38 915.85,445.39 922.08,440.49 928.53,448.28" fill="none" stroke="url(#g42)" stroke-width="1.1"/><polyline points="866.23,505.47 872.46,506.58 878.69,507.25 885.14,505.47 891.37,516.59 897.6,505.47 904.06,508.36 910.29,503.24 915.85,513.48 922.08,507.25 928.53,511.25" fill="none" stroke="url(#g42)" stroke-width="1.1"/><polyline points="865.34,566.66 872.46,571.78 878.69,574 885.14,570.22 891.37,575.56 897.6,567.33 904.06,569.55 910.29,569.55 916.96,573.33 922.08,569.55 928.53,571.33" fill="none" stroke="url(#g42)" stroke-width="1.1"/><circle cx="981" cy="438.8" r="11.75" fill="none" stroke="#30dcc2" stroke-width="6.5"/><path d="M981,427.05 A11.75,11.75 0 0 1 985.78,449.53" fill="none" stroke="#3a88f5" stroke-width="6.5"/><circle cx="981" cy="501.1" r="11.75" fill="none" stroke="#30dcc2" stroke-width="6.5"/><path d="M981,489.35 A11.75,11.75 0 0 1 985.02,512.14" fill="none" stroke="#3a88f5" stroke-width="6.5"/><circle cx="981" cy="561.8" r="11.75" fill="none" stroke="#30dcc2" stroke-width="6.5"/><path d="M975.12,571.98 A11.75,11.75 0 0 1 981,550.05" fill="none" stroke="#3a88f5" stroke-width="6.5"/></svg></div>
<div class="c" style="left:779px;top:607px;width:235px;height:189px"><svg width="235" height="189" viewBox="779 607 235 189"><line x1="781" y1="670.4" x2="1012" y2="670.4" stroke="#e4e4e4" stroke-width="0.9"/><line x1="781" y1="732.3" x2="1012" y2="732.3" stroke="#e4e4e4" stroke-width="0.9"/><text transform="translate(798.6 630.9) scale(0.89 1)" font-size="6.4" fill="#666">VIEWS</text><text x="797.5" y="651.5" font-size="18.4" fill="#1a1a1a">6489</text><circle cx="870.2" cy="625.5" r="2.4" fill="#2f80f6"/><text transform="translate(876.9 627.8) scale(0.87 1)" font-size="6.6" fill="#1a1a1a" text-anchor="medium">NEW</text><circle cx="899.4" cy="625.5" r="2.4" fill="#2f80f6"/><text transform="translate(905.8 627.8) scale(0.87 1)" font-size="6.6" fill="#1a1a1a" text-anchor="medium">RETURN</text><text transform="translate(798.6 692.7) scale(0.89 1)" font-size="6.4" fill="#666">LIKES</text><text x="797.5" y="713.8" font-size="18.4" fill="#1a1a1a">286</text><circle cx="870.2" cy="687.6" r="2.4" fill="#2f80f6"/><text transform="translate(876.9 689.9) scale(0.87 1)" font-size="6.6" fill="#1a1a1a" text-anchor="medium">FFEENOB</text><circle cx="910.3" cy="687.6" r="2.4" fill="#2f80f6"/><text transform="translate(917 689.9) scale(0.87 1)" font-size="6.6" fill="#1a1a1a" text-anchor="medium">OTHER</text><text transform="translate(798.6 755.1) scale(0.89 1)" font-size="6.4" fill="#666">FOLLOWERS</text><text x="797.5" y="775.4" font-size="18.4" fill="#1a1a1a">83</text><circle cx="870.2" cy="748.5" r="2.4" fill="#2f80f6"/><text transform="translate(876.9 750.8) scale(0.87 1)" font-size="6.6" fill="#1a1a1a" text-anchor="medium">PAOFLE</text><circle cx="909.6" cy="748.5" r="2.4" fill="#2f80f6"/><text transform="translate(915.8 750.8) scale(0.87 1)" font-size="6.6" fill="#1a1a1a" text-anchor="medium">FEEO</text><rect x="865.1" y="634.1" width="5.6" height="18.5" fill="#34dcc0"/><rect x="865.1" y="638.2" width="5.6" height="14.4" fill="#3384f2"/><rect x="875.4" y="643" width="5.6" height="9.6" fill="#34dcc0"/><rect x="875.4" y="647.7" width="5.6" height="4.9" fill="#3384f2"/><rect x="886.3" y="638.2" width="5.6" height="14.4" fill="#34dcc0"/><rect x="886.3" y="642.6" width="5.6" height="10" fill="#3384f2"/><rect x="896.9" y="639.3" width="5.6" height="13.3" fill="#34dcc0"/><rect x="896.9" y="643.7" width="5.6" height="8.9" fill="#3384f2"/><rect x="907.4" y="644.2" width="5.6" height="8.4" fill="#34dcc0"/><rect x="907.4" y="647.7" width="5.6" height="4.9" fill="#3384f2"/><rect x="917.4" y="637" width="5.6" height="15.6" fill="#34dcc0"/><rect x="917.4" y="640.8" width="5.6" height="11.8" fill="#3384f2"/><rect x="928.1" y="641" width="5.6" height="11.6" fill="#34dcc0"/><rect x="928.1" y="644.8" width="5.6" height="7.8" fill="#3384f2"/><text x="867.9" y="660.2" font-size="6.6" fill="#222" text-anchor="middle">S</text><text x="878.2" y="660.2" font-size="6.6" fill="#222" text-anchor="middle">M</text><text x="889.1" y="660.2" font-size="6.6" fill="#222" text-anchor="middle">T</text><text x="899.7" y="660.2" font-size="6.6" fill="#222" text-anchor="middle">W</text><text x="910.2" y="660.2" font-size="6.6" fill="#222" text-anchor="middle">I</text><text x="920.2" y="660.2" font-size="6.6" fill="#222" text-anchor="middle">P</text><text x="930.9" y="660.2" font-size="6.6" fill="#222" text-anchor="middle">L</text><rect x="865.1" y="694.9" width="5.6" height="18.9" fill="#34dcc0"/><rect x="865.1" y="698.7" width="5.6" height="15.1" fill="#3384f2"/><rect x="875.4" y="698.9" width="5.6" height="14.9" fill="#34dcc0"/><rect x="875.4" y="703.8" width="5.6" height="10" fill="#3384f2"/><rect x="886.3" y="700.9" width="5.6" height="12.9" fill="#34dcc0"/><rect x="886.3" y="706" width="5.6" height="7.8" fill="#3384f2"/><rect x="896.9" y="702" width="5.6" height="11.8" fill="#34dcc0"/><rect x="896.9" y="707.1" width="5.6" height="6.7" fill="#3384f2"/><rect x="907.4" y="704.9" width="5.6" height="8.9" fill="#34dcc0"/><rect x="907.4" y="707.1" width="5.6" height="6.7" fill="#3384f2"/><rect x="917.4" y="704.2" width="5.6" height="9.6" fill="#34dcc0"/><rect x="917.4" y="707.8" width="5.6" height="6" fill="#3384f2"/><rect x="928.1" y="700" width="5.6" height="13.8" fill="#34dcc0"/><rect x="928.1" y="706" width="5.6" height="7.8" fill="#3384f2"/><text x="867.9" y="721.8" font-size="6.6" fill="#222" text-anchor="middle">S</text><text x="878.2" y="721.8" font-size="6.6" fill="#222" text-anchor="middle">M</text><text x="889.1" y="721.8" font-size="6.6" fill="#222" text-anchor="middle">T</text><text x="899.7" y="721.8" font-size="6.6" fill="#222" text-anchor="middle">W</text><text x="910.2" y="721.8" font-size="6.6" fill="#222" text-anchor="middle">I</text><text x="920.2" y="721.8" font-size="6.6" fill="#222" text-anchor="middle">P</text><text x="930.9" y="721.8" font-size="6.6" fill="#222" text-anchor="middle">L</text><rect x="865.1" y="757.2" width="5.6" height="18.2" fill="#34dcc0"/><rect x="865.1" y="761" width="5.6" height="14.4" fill="#3384f2"/><rect x="875.4" y="761" width="5.6" height="14.4" fill="#34dcc0"/><rect x="875.4" y="765.7" width="5.6" height="9.7" fill="#3384f2"/><rect x="886.3" y="763.2" width="5.6" height="12.2" fill="#34dcc0"/><rect x="886.3" y="769.9" width="5.6" height="5.5" fill="#3384f2"/><rect x="896.9" y="763.9" width="5.6" height="11.5" fill="#34dcc0"/><rect x="896.9" y="767.9" width="5.6" height="7.5" fill="#3384f2"/><rect x="907.4" y="766.8" width="5.6" height="8.6" fill="#34dcc0"/><rect x="907.4" y="771" width="5.6" height="4.4" fill="#3384f2"/><rect x="917.4" y="762.1" width="5.6" height="13.3" fill="#34dcc0"/><rect x="917.4" y="763.9" width="5.6" height="11.5" fill="#3384f2"/><rect x="928.1" y="762.1" width="5.6" height="13.3" fill="#34dcc0"/><rect x="928.1" y="767.9" width="5.6" height="7.5" fill="#3384f2"/><text x="867.9" y="783" font-size="6.6" fill="#222" text-anchor="middle">S</text><text x="878.2" y="783" font-size="6.6" fill="#222" text-anchor="middle">M</text><text x="889.1" y="783" font-size="6.6" fill="#222" text-anchor="middle">T</text><text x="899.7" y="783" font-size="6.6" fill="#222" text-anchor="middle">W</text><text x="910.2" y="783" font-size="6.6" fill="#222" text-anchor="middle">I</text><text x="920.2" y="783" font-size="6.6" fill="#222" text-anchor="middle">P</text><text x="930.9" y="783" font-size="6.6" fill="#222" text-anchor="middle">L</text><circle cx="981" cy="639.8" r="11.75" fill="none" stroke="#30dcc2" stroke-width="6.5"/><path d="M981,628.05 A11.75,11.75 0 0 1 985.78,650.53" fill="none" stroke="#3a88f5" stroke-width="6.5"/><circle cx="981" cy="702.1" r="11.75" fill="none" stroke="#30dcc2" stroke-width="6.5"/><path d="M981,690.35 A11.75,11.75 0 0 1 985.02,713.14" fill="none" stroke="#3a88f5" stroke-width="6.5"/><circle cx="981" cy="762.8" r="11.75" fill="none" stroke="#30dcc2" stroke-width="6.5"/><path d="M975.12,772.98 A11.75,11.75 0 0 1 981,751.05" fill="none" stroke="#3a88f5" stroke-width="6.5"/></svg></div>
<div class="c" style="left:779px;top:808px;width:235px;height:102px"><svg width="235" height="102" viewBox="779 808 235 102"><text x="834.2" y="835.9" font-size="6.6" fill="#222" text-anchor="middle">ACTME TIME</text><text x="895.4" y="835.9" font-size="6.6" fill="#222" text-anchor="middle">STEPS</text><text x="958.8" y="835.9" font-size="6.6" fill="#222" text-anchor="middle">DISTANDE</text><text x="834.2" y="852.1" font-size="12" fill="#1a1a1a" text-anchor="middle">35:22</text><text x="896.3" y="852.1" font-size="12" fill="#1a1a1a" text-anchor="middle">87.342</text><text transform="translate(941 852.1) scale(0.92 1)" font-size="12" fill="#1a1a1a">48.1</text><text transform="translate(962.6 852.1) scale(0.9 1)" font-size="6.8" fill="#1a1a1a">KM</text><text transform="translate(801.3 874) scale(0.95 1)" font-size="8" fill="#222" font-weight="bold">49321</text><text x="829" y="873.8" font-size="6" fill="#666">CALORIES BURNED</text><line x1="801.5" y1="884" x2="991.2" y2="884" stroke="#30dcc2" stroke-width="5" stroke-linecap="round"/><line x1="801.5" y1="884" x2="949" y2="884" stroke="#2a7cf0" stroke-width="5" stroke-linecap="round"/><rect x="949" y="881.5" width="2.5" height="5" fill="#2a7cf0"/></svg></div>
<div class="c" style="left:779px;top:922px;width:235px;height:189px"><svg width="235" height="189" viewBox="779 922 235 189"><line x1="781" y1="984.9" x2="1012" y2="984.9" stroke="#e6e6e6" stroke-width="2"/><line x1="781" y1="1047" x2="1012" y2="1047" stroke="#e6e6e6" stroke-width="2"/><text x="797.5" y="952.7" font-size="18.4" fill="#1a1a1a">+1642</text><text x="797.5" y="965.5" font-size="6.6" fill="#777" letter-spacing="0.35">DAILY CHANGE</text><text x="797.5" y="1014.8" font-size="18.4" fill="#1a1a1a">2641</text><text x="797.5" y="1027.8" font-size="6.6" fill="#777">VISTIS</text><text x="797.5" y="1076.6" font-size="18.4" fill="#1a1a1a">714</text><text x="797.5" y="1089" font-size="6.6" fill="#777">USERS</text><rect x="928.1" y="942" width="5.6" height="18.5" fill="#34dcc0"/><rect x="928.1" y="946" width="5.6" height="14.5" fill="#3384f2"/><rect x="939.2" y="950.9" width="5.6" height="9.6" fill="#34dcc0"/><rect x="939.2" y="957.6" width="5.6" height="2.9" fill="#3384f2"/><rect x="949.2" y="944.9" width="5.6" height="15.6" fill="#34dcc0"/><rect x="949.2" y="954.9" width="5.6" height="5.6" fill="#3384f2"/><rect x="959.9" y="948" width="5.6" height="12.5" fill="#34dcc0"/><rect x="959.9" y="956" width="5.6" height="4.5" fill="#3384f2"/><rect x="969.9" y="950.9" width="5.6" height="9.6" fill="#34dcc0"/><rect x="969.9" y="956.9" width="5.6" height="3.6" fill="#3384f2"/><rect x="981" y="944.9" width="5.6" height="15.6" fill="#34dcc0"/><rect x="981" y="948.7" width="5.6" height="11.8" fill="#3384f2"/><rect x="991" y="948" width="5.6" height="12.5" fill="#34dcc0"/><rect x="991" y="953.2" width="5.6" height="7.3" fill="#3384f2"/><text x="930.9" y="967" font-size="6.6" fill="#222" text-anchor="middle">S</text><text x="942" y="967" font-size="6.6" fill="#222" text-anchor="middle">M</text><text x="952" y="967" font-size="6.6" fill="#222" text-anchor="middle">T</text><text x="962.7" y="967" font-size="6.6" fill="#222" text-anchor="middle">W</text><text x="972.7" y="967" font-size="6.6" fill="#222" text-anchor="middle">I</text><text x="983.8" y="967" font-size="6.6" fill="#222" text-anchor="middle">P</text><text x="993.8" y="967" font-size="6.6" fill="#222" text-anchor="middle">L</text><rect x="924.7" y="1002.8" width="5.6" height="18.9" fill="#34dcc0"/><rect x="924.7" y="1007" width="5.6" height="14.7" fill="#3384f2"/><rect x="935.9" y="1007" width="5.6" height="14.7" fill="#34dcc0"/><rect x="935.9" y="1018.1" width="5.6" height="3.6" fill="#3384f2"/><rect x="945.9" y="1009.2" width="5.6" height="12.5" fill="#34dcc0"/><rect x="945.9" y="1015.9" width="5.6" height="5.8" fill="#3384f2"/><rect x="957" y="1010.3" width="5.6" height="11.4" fill="#34dcc0"/><rect x="957" y="1017" width="5.6" height="4.7" fill="#3384f2"/><rect x="967" y="1012.8" width="5.6" height="8.9" fill="#34dcc0"/><rect x="967" y="1015.9" width="5.6" height="5.8" fill="#3384f2"/><rect x="977.7" y="1009.2" width="5.6" height="12.5" fill="#34dcc0"/><rect x="977.7" y="1015.9" width="5.6" height="5.8" fill="#3384f2"/><rect x="988.2" y="1007" width="5.6" height="14.7" fill="#34dcc0"/><rect x="988.2" y="1013.9" width="5.6" height="7.8" fill="#3384f2"/><text x="927.5" y="1028" font-size="6.6" fill="#222" text-anchor="middle">S</text><text x="938.7" y="1028" font-size="6.6" fill="#222" text-anchor="middle">M</text><text x="948.7" y="1028" font-size="6.6" fill="#222" text-anchor="middle">T</text><text x="959.8" y="1028" font-size="6.6" fill="#222" text-anchor="middle">W</text><text x="969.8" y="1028" font-size="6.6" fill="#222" text-anchor="middle">I</text><text x="980.5" y="1028" font-size="6.6" fill="#222" text-anchor="middle">P</text><text x="991" y="1028" font-size="6.6" fill="#222" text-anchor="middle">L</text><rect x="924.7" y="1072.2" width="5.6" height="11.6" fill="#34dcc0"/><rect x="924.7" y="1074" width="5.6" height="9.8" fill="#3384f2"/><rect x="935.9" y="1071.1" width="5.6" height="12.7" fill="#34dcc0"/><rect x="935.9" y="1080" width="5.6" height="3.8" fill="#3384f2"/><rect x="945.9" y="1064" width="5.6" height="19.8" fill="#34dcc0"/><rect x="945.9" y="1074" width="5.6" height="9.8" fill="#3384f2"/><rect x="957" y="1068.2" width="5.6" height="15.6" fill="#34dcc0"/><rect x="957" y="1078.9" width="5.6" height="4.9" fill="#3384f2"/><rect x="967" y="1073.3" width="5.6" height="10.5" fill="#34dcc0"/><rect x="967" y="1077.8" width="5.6" height="6" fill="#3384f2"/><rect x="977.7" y="1071.1" width="5.6" height="12.7" fill="#34dcc0"/><rect x="977.7" y="1077.8" width="5.6" height="6" fill="#3384f2"/><rect x="988.2" y="1068.2" width="5.6" height="15.6" fill="#34dcc0"/><rect x="988.2" y="1074.9" width="5.6" height="8.9" fill="#3384f2"/><text x="927.5" y="1089.6" font-size="6.6" fill="#222" text-anchor="middle">S</text><text x="938.7" y="1089.6" font-size="6.6" fill="#222" text-anchor="middle">M</text><text x="948.7" y="1089.6" font-size="6.6" fill="#222" text-anchor="middle">T</text><text x="959.8" y="1089.6" font-size="6.6" fill="#222" text-anchor="middle">W</text><text x="969.8" y="1089.6" font-size="6.6" fill="#222" text-anchor="middle">I</text><text x="980.5" y="1089.6" font-size="6.6" fill="#222" text-anchor="middle">P</text><text x="991" y="1089.6" font-size="6.6" fill="#222" text-anchor="middle">L</text></svg></div>
<div class="c" style="left:779px;top:1123px;width:235px;height:292px"><svg width="235" height="292" viewBox="779 1123 235 292"><polygon points="896.9,1160.2 944.06,1179.74 963.6,1226.9 944.06,1274.06 896.9,1293.6 849.74,1274.06 830.2,1226.9 849.74,1179.74" fill="#1b60d2"/><polygon points="896.9,1174.2 934.16,1189.64 949.6,1226.9 934.16,1264.16 896.9,1279.6 859.64,1264.16 844.2,1226.9 859.64,1189.64" fill="#3a88f5"/><polygon points="896.9,1188.6 923.98,1199.82 935.2,1226.9 923.98,1253.98 896.9,1265.2 869.82,1253.98 858.6,1226.9 869.82,1199.82" fill="#8fb8f8"/><line x1="896.9" y1="1226.9" x2="896.9" y2="1160.2" stroke="#173f8a" stroke-width="0.8"/><line x1="896.9" y1="1226.9" x2="944.06" y2="1179.74" stroke="#173f8a" stroke-width="0.8"/><line x1="896.9" y1="1226.9" x2="963.6" y2="1226.9" stroke="#173f8a" stroke-width="0.8"/><line x1="896.9" y1="1226.9" x2="944.06" y2="1274.06" stroke="#173f8a" stroke-width="0.8"/><line x1="896.9" y1="1226.9" x2="896.9" y2="1293.6" stroke="#173f8a" stroke-width="0.8"/><line x1="896.9" y1="1226.9" x2="849.74" y2="1274.06" stroke="#173f8a" stroke-width="0.8"/><line x1="896.9" y1="1226.9" x2="830.2" y2="1226.9" stroke="#173f8a" stroke-width="0.8"/><line x1="896.9" y1="1226.9" x2="849.74" y2="1179.74" stroke="#173f8a" stroke-width="0.8"/><polygon points="896.9,1202 924.05,1199.75 949.9,1226.9 923.91,1253.91 896.9,1293.2 867.63,1256.17 857.3,1226.9 859.42,1189.42" fill="#36dcc4"/><text x="897.6" y="1155.1" font-size="7" fill="#222" text-anchor="middle">MOVE</text><text x="958.8" y="1174" font-size="7" fill="#222" text-anchor="middle">NEWS</text><text x="979.9" y="1229.4" font-size="7" fill="#222" text-anchor="middle">SHOW</text><text x="965.2" y="1283.9" font-size="7" fill="#222" text-anchor="middle">MAGAZINE</text><text x="896.9" y="1303.5" font-size="7" fill="#222" text-anchor="middle">INTERNET</text><text x="833" y="1283.9" font-size="7" fill="#222" text-anchor="middle">RADIO</text><text x="819.7" y="1229.4" font-size="7" fill="#222" text-anchor="middle">TV</text><text x="834.6" y="1174" font-size="7" fill="#222" text-anchor="middle">MUSIC</text><path d="M852.62,1328.3 A27.2,27.2 0 0 1 855.28,1328.4" fill="none" stroke="#1edfc1" stroke-width="1.6"/><path d="M854.52,1328.34 A27.2,27.2 0 0 1 857.16,1328.62" fill="none" stroke="#1edec2" stroke-width="1.6"/><path d="M856.41,1328.51 A27.2,27.2 0 0 1 859.03,1328.98" fill="none" stroke="#1edcc4" stroke-width="1.6"/><path d="M858.28,1328.82 A27.2,27.2 0 0 1 860.86,1329.46" fill="none" stroke="#1edbc5" stroke-width="1.6"/><path d="M860.13,1329.25 A27.2,27.2 0 0 1 862.66,1330.07" fill="none" stroke="#1edac6" stroke-width="1.6"/><path d="M861.95,1329.81 A27.2,27.2 0 0 1 864.41,1330.81" fill="none" stroke="#1ed8c8" stroke-width="1.6"/><path d="M863.72,1330.5 A27.2,27.2 0 0 1 866.1,1331.66" fill="none" stroke="#1ed7c9" stroke-width="1.6"/><path d="M865.43,1331.31 A27.2,27.2 0 0 1 867.73,1332.64" fill="none" stroke="#1ed5cb" stroke-width="1.6"/><path d="M867.09,1332.23 A27.2,27.2 0 0 1 869.29,1333.72" fill="none" stroke="#1ed4cc" stroke-width="1.6"/><path d="M868.68,1333.27 A27.2,27.2 0 0 1 870.77,1334.91" fill="none" stroke="#1ed2ce" stroke-width="1.6"/><path d="M870.19,1334.42 A27.2,27.2 0 0 1 872.17,1336.2" fill="none" stroke="#1ed1cf" stroke-width="1.6"/><path d="M871.62,1335.67 A27.2,27.2 0 0 1 873.47,1337.58" fill="none" stroke="#1ed0d0" stroke-width="1.6"/><path d="M872.96,1337.02 A27.2,27.2 0 0 1 874.67,1339.05" fill="none" stroke="#1eced2" stroke-width="1.6"/><path d="M874.2,1338.46 A27.2,27.2 0 0 1 875.76,1340.61" fill="none" stroke="#1ecdd3" stroke-width="1.6"/><path d="M875.34,1339.98 A27.2,27.2 0 0 1 876.74,1342.23" fill="none" stroke="#1ecbd5" stroke-width="1.6"/><path d="M876.36,1341.57 A27.2,27.2 0 0 1 877.61,1343.92" fill="none" stroke="#1ecad6" stroke-width="1.6"/><path d="M877.28,1343.24 A27.2,27.2 0 0 1 878.36,1345.66" fill="none" stroke="#1ec9d7" stroke-width="1.6"/><path d="M878.07,1344.96 A27.2,27.2 0 0 1 878.98,1347.46" fill="none" stroke="#1ec7d9" stroke-width="1.6"/><path d="M878.75,1346.73 A27.2,27.2 0 0 1 879.48,1349.29" fill="none" stroke="#1ec6da" stroke-width="1.6"/><path d="M879.3,1348.55 A27.2,27.2 0 0 1 879.85,1351.15" fill="none" stroke="#1ec4dc" stroke-width="1.6"/><path d="M879.72,1350.4 A27.2,27.2 0 0 1 880.09,1353.03" fill="none" stroke="#1ec3dd" stroke-width="1.6"/><path d="M880.01,1352.28 A27.2,27.2 0 0 1 880.19,1354.93" fill="none" stroke="#1ec1df" stroke-width="1.6"/><path d="M880.17,1354.17 A27.2,27.2 0 0 1 880.17,1356.83" fill="none" stroke="#1ec0e0" stroke-width="1.6"/><path d="M880.19,1356.07 A27.2,27.2 0 0 1 880.01,1358.72" fill="none" stroke="#1fbde1" stroke-width="1.6"/><path d="M880.09,1357.97 A27.2,27.2 0 0 1 879.72,1360.6" fill="none" stroke="#1fbae1" stroke-width="1.6"/><path d="M879.85,1359.85 A27.2,27.2 0 0 1 879.3,1362.45" fill="none" stroke="#20b6e2" stroke-width="1.6"/><path d="M879.48,1361.71 A27.2,27.2 0 0 1 878.75,1364.27" fill="none" stroke="#20b3e3" stroke-width="1.6"/><path d="M878.98,1363.54 A27.2,27.2 0 0 1 878.07,1366.04" fill="none" stroke="#21b0e4" stroke-width="1.6"/><path d="M878.36,1365.34 A27.2,27.2 0 0 1 877.28,1367.76" fill="none" stroke="#21ade4" stroke-width="1.6"/><path d="M877.61,1367.08 A27.2,27.2 0 0 1 876.36,1369.43" fill="none" stroke="#22aae5" stroke-width="1.6"/><path d="M876.74,1368.77 A27.2,27.2 0 0 1 875.34,1371.02" fill="none" stroke="#22a6e6" stroke-width="1.6"/><path d="M875.76,1370.39 A27.2,27.2 0 0 1 874.2,1372.54" fill="none" stroke="#23a3e6" stroke-width="1.6"/><path d="M874.67,1371.95 A27.2,27.2 0 0 1 872.96,1373.98" fill="none" stroke="#23a0e7" stroke-width="1.6"/><path d="M873.47,1373.42 A27.2,27.2 0 0 1 871.62,1375.33" fill="none" stroke="#249de8" stroke-width="1.6"/><path d="M872.17,1374.8 A27.2,27.2 0 0 1 870.19,1376.58" fill="none" stroke="#249ae9" stroke-width="1.6"/><path d="M870.77,1376.09 A27.2,27.2 0 0 1 868.68,1377.73" fill="none" stroke="#2596e9" stroke-width="1.6"/><path d="M869.29,1377.28 A27.2,27.2 0 0 1 867.09,1378.77" fill="none" stroke="#2593ea" stroke-width="1.6"/><path d="M867.73,1378.36 A27.2,27.2 0 0 1 865.43,1379.69" fill="none" stroke="#2690eb" stroke-width="1.6"/><path d="M866.1,1379.34 A27.2,27.2 0 0 1 863.72,1380.5" fill="none" stroke="#278deb" stroke-width="1.6"/><path d="M864.41,1380.19 A27.2,27.2 0 0 1 861.95,1381.19" fill="none" stroke="#278aec" stroke-width="1.6"/><path d="M862.66,1380.93 A27.2,27.2 0 0 1 860.13,1381.75" fill="none" stroke="#2886ed" stroke-width="1.6"/><path d="M860.86,1381.54 A27.2,27.2 0 0 1 858.28,1382.18" fill="none" stroke="#2883ee" stroke-width="1.6"/><path d="M859.03,1382.02 A27.2,27.2 0 0 1 856.41,1382.49" fill="none" stroke="#2980ee" stroke-width="1.6"/><path d="M857.16,1382.38 A27.2,27.2 0 0 1 854.52,1382.66" fill="none" stroke="#297def" stroke-width="1.6"/><path d="M855.28,1382.6 A27.2,27.2 0 0 1 852.62,1382.7" fill="none" stroke="#2a7af0" stroke-width="1.6"/><path d="M853.38,1382.7 A27.2,27.2 0 0 1 850.72,1382.6" fill="none" stroke="#2a79f0" stroke-width="1.6"/><path d="M851.48,1382.66 A27.2,27.2 0 0 1 848.84,1382.38" fill="none" stroke="#297bef" stroke-width="1.6"/><path d="M849.59,1382.49 A27.2,27.2 0 0 1 846.97,1382.02" fill="none" stroke="#297def" stroke-width="1.6"/><path d="M847.72,1382.18 A27.2,27.2 0 0 1 845.14,1381.54" fill="none" stroke="#2880ef" stroke-width="1.6"/><path d="M845.87,1381.75 A27.2,27.2 0 0 1 843.34,1380.93" fill="none" stroke="#2882ee" stroke-width="1.6"/><path d="M844.05,1381.19 A27.2,27.2 0 0 1 841.59,1380.19" fill="none" stroke="#2884ee" stroke-width="1.6"/><path d="M842.28,1380.5 A27.2,27.2 0 0 1 839.9,1379.34" fill="none" stroke="#2786ee" stroke-width="1.6"/><path d="M840.57,1379.69 A27.2,27.2 0 0 1 838.27,1378.36" fill="none" stroke="#2788ed" stroke-width="1.6"/><path d="M838.91,1378.77 A27.2,27.2 0 0 1 836.71,1377.28" fill="none" stroke="#268aed" stroke-width="1.6"/><path d="M837.32,1377.73 A27.2,27.2 0 0 1 835.23,1376.09" fill="none" stroke="#268ced" stroke-width="1.6"/><path d="M835.81,1376.58 A27.2,27.2 0 0 1 833.83,1374.8" fill="none" stroke="#258fec" stroke-width="1.6"/><path d="M834.38,1375.33 A27.2,27.2 0 0 1 832.53,1373.42" fill="none" stroke="#2591ec" stroke-width="1.6"/><path d="M833.04,1373.98 A27.2,27.2 0 0 1 831.33,1371.95" fill="none" stroke="#2493ec" stroke-width="1.6"/><path d="M831.8,1372.54 A27.2,27.2 0 0 1 830.24,1370.39" fill="none" stroke="#2495eb" stroke-width="1.6"/><path d="M830.66,1371.02 A27.2,27.2 0 0 1 829.26,1368.77" fill="none" stroke="#2397eb" stroke-width="1.6"/><path d="M829.64,1369.43 A27.2,27.2 0 0 1 828.39,1367.08" fill="none" stroke="#2399ea" stroke-width="1.6"/><path d="M828.72,1367.76 A27.2,27.2 0 0 1 827.64,1365.34" fill="none" stroke="#239cea" stroke-width="1.6"/><path d="M827.93,1366.04 A27.2,27.2 0 0 1 827.02,1363.54" fill="none" stroke="#229eea" stroke-width="1.6"/><path d="M827.25,1364.27 A27.2,27.2 0 0 1 826.52,1361.71" fill="none" stroke="#22a0e9" stroke-width="1.6"/><path d="M826.7,1362.45 A27.2,27.2 0 0 1 826.15,1359.85" fill="none" stroke="#21a2e9" stroke-width="1.6"/><path d="M826.28,1360.6 A27.2,27.2 0 0 1 825.91,1357.97" fill="none" stroke="#21a4e9" stroke-width="1.6"/><path d="M825.99,1358.72 A27.2,27.2 0 0 1 825.81,1356.07" fill="none" stroke="#20a6e8" stroke-width="1.6"/><path d="M825.83,1356.83 A27.2,27.2 0 0 1 825.83,1354.17" fill="none" stroke="#f6d24c" stroke-width="1.6"/><path d="M825.81,1354.93 A27.2,27.2 0 0 1 825.99,1352.28" fill="none" stroke="#f6d24c" stroke-width="1.6"/><path d="M825.91,1353.03 A27.2,27.2 0 0 1 826.28,1350.4" fill="none" stroke="#f6d24c" stroke-width="1.6"/><path d="M826.15,1351.15 A27.2,27.2 0 0 1 826.7,1348.55" fill="none" stroke="#f6d24c" stroke-width="1.6"/><path d="M826.52,1349.29 A27.2,27.2 0 0 1 827.25,1346.73" fill="none" stroke="#f6d24c" stroke-width="1.6"/><path d="M827.02,1347.46 A27.2,27.2 0 0 1 827.93,1344.96" fill="none" stroke="#f6d24c" stroke-width="1.6"/><path d="M827.64,1345.66 A27.2,27.2 0 0 1 828.72,1343.24" fill="none" stroke="#f6d24c" stroke-width="1.6"/><path d="M828.39,1343.92 A27.2,27.2 0 0 1 829.64,1341.57" fill="none" stroke="#f6d24c" stroke-width="1.6"/><path d="M829.26,1342.23 A27.2,27.2 0 0 1 830.66,1339.98" fill="none" stroke="#f6d24c" stroke-width="1.6"/><path d="M830.24,1340.61 A27.2,27.2 0 0 1 831.8,1338.46" fill="none" stroke="#f6d24c" stroke-width="1.6"/><path d="M831.33,1339.05 A27.2,27.2 0 0 1 833.04,1337.02" fill="none" stroke="#f6d24c" stroke-width="1.6"/><path d="M832.53,1337.58 A27.2,27.2 0 0 1 834.38,1335.67" fill="none" stroke="#f6d24c" stroke-width="1.6"/><path d="M833.83,1336.2 A27.2,27.2 0 0 1 835.81,1334.42" fill="none" stroke="#f6d24c" stroke-width="1.6"/><path d="M835.23,1334.91 A27.2,27.2 0 0 1 837.32,1333.27" fill="none" stroke="#f6d24c" stroke-width="1.6"/><path d="M836.71,1333.72 A27.2,27.2 0 0 1 838.91,1332.23" fill="none" stroke="#f6d24c" stroke-width="1.6"/><path d="M838.27,1332.64 A27.2,27.2 0 0 1 840.57,1331.31" fill="none" stroke="#f6d24c" stroke-width="1.6"/><path d="M839.9,1331.66 A27.2,27.2 0 0 1 842.28,1330.5" fill="none" stroke="#f6d24c" stroke-width="1.6"/><path d="M841.59,1330.81 A27.2,27.2 0 0 1 844.05,1329.81" fill="none" stroke="#f6d24c" stroke-width="1.6"/><path d="M843.34,1330.07 A27.2,27.2 0 0 1 845.87,1329.25" fill="none" stroke="#f6d24c" stroke-width="1.6"/><path d="M845.14,1329.46 A27.2,27.2 0 0 1 847.72,1328.82" fill="none" stroke="#f6d24c" stroke-width="1.6"/><path d="M846.97,1328.98 A27.2,27.2 0 0 1 849.59,1328.51" fill="none" stroke="#f6d24c" stroke-width="1.6"/><path d="M848.84,1328.62 A27.2,27.2 0 0 1 851.48,1328.34" fill="none" stroke="#f6d24c" stroke-width="1.6"/><path d="M850.72,1328.4 A27.2,27.2 0 0 1 853.38,1328.3" fill="none" stroke="#f6d24c" stroke-width="1.6"/><path d="M942.42,1328.5 A27,27 0 0 1 945.06,1328.59" fill="none" stroke="#1edfc1" stroke-width="1.6"/><path d="M944.31,1328.54 A27,27 0 0 1 946.93,1328.82" fill="none" stroke="#1edec2" stroke-width="1.6"/><path d="M946.18,1328.71 A27,27 0 0 1 948.78,1329.17" fill="none" stroke="#1edcc4" stroke-width="1.6"/><path d="M948.04,1329.01 A27,27 0 0 1 950.6,1329.65" fill="none" stroke="#1edbc5" stroke-width="1.6"/><path d="M949.88,1329.44 A27,27 0 0 1 952.39,1330.26" fill="none" stroke="#1edac6" stroke-width="1.6"/><path d="M951.68,1330 A27,27 0 0 1 954.13,1330.99" fill="none" stroke="#1ed8c8" stroke-width="1.6"/><path d="M953.44,1330.68 A27,27 0 0 1 955.81,1331.84" fill="none" stroke="#1ed7c9" stroke-width="1.6"/><path d="M955.14,1331.49 A27,27 0 0 1 957.43,1332.8" fill="none" stroke="#1ed5cb" stroke-width="1.6"/><path d="M956.79,1332.41 A27,27 0 0 1 958.97,1333.88" fill="none" stroke="#1ed4cc" stroke-width="1.6"/><path d="M958.36,1333.44 A27,27 0 0 1 960.44,1335.06" fill="none" stroke="#1ed2ce" stroke-width="1.6"/><path d="M959.86,1334.58 A27,27 0 0 1 961.83,1336.34" fill="none" stroke="#1ed1cf" stroke-width="1.6"/><path d="M961.28,1335.82 A27,27 0 0 1 963.12,1337.72" fill="none" stroke="#1ed0d0" stroke-width="1.6"/><path d="M962.61,1337.16 A27,27 0 0 1 964.31,1339.18" fill="none" stroke="#1eced2" stroke-width="1.6"/><path d="M963.84,1338.58 A27,27 0 0 1 965.39,1340.72" fill="none" stroke="#1ecdd3" stroke-width="1.6"/><path d="M964.97,1340.09 A27,27 0 0 1 966.37,1342.33" fill="none" stroke="#1ecbd5" stroke-width="1.6"/><path d="M965.99,1341.67 A27,27 0 0 1 967.23,1344" fill="none" stroke="#1ecad6" stroke-width="1.6"/><path d="M966.9,1343.33 A27,27 0 0 1 967.97,1345.74" fill="none" stroke="#1ec9d7" stroke-width="1.6"/><path d="M967.69,1345.04 A27,27 0 0 1 968.59,1347.52" fill="none" stroke="#1ec7d9" stroke-width="1.6"/><path d="M968.36,1346.8 A27,27 0 0 1 969.09,1349.33" fill="none" stroke="#1ec6da" stroke-width="1.6"/><path d="M968.9,1348.6 A27,27 0 0 1 969.45,1351.18" fill="none" stroke="#1ec4dc" stroke-width="1.6"/><path d="M969.32,1350.44 A27,27 0 0 1 969.69,1353.05" fill="none" stroke="#1ec3dd" stroke-width="1.6"/><path d="M969.61,1352.3 A27,27 0 0 1 969.79,1354.93" fill="none" stroke="#1ec1df" stroke-width="1.6"/><path d="M969.77,1354.18 A27,27 0 0 1 969.77,1356.82" fill="none" stroke="#1ec0e0" stroke-width="1.6"/><path d="M969.79,1356.07 A27,27 0 0 1 969.61,1358.7" fill="none" stroke="#1fbde1" stroke-width="1.6"/><path d="M969.69,1357.95 A27,27 0 0 1 969.32,1360.56" fill="none" stroke="#1fbae1" stroke-width="1.6"/><path d="M969.45,1359.82 A27,27 0 0 1 968.9,1362.4" fill="none" stroke="#20b6e2" stroke-width="1.6"/><path d="M969.09,1361.67 A27,27 0 0 1 968.36,1364.2" fill="none" stroke="#20b3e3" stroke-width="1.6"/><path d="M968.59,1363.48 A27,27 0 0 1 967.69,1365.96" fill="none" stroke="#21b0e4" stroke-width="1.6"/><path d="M967.97,1365.26 A27,27 0 0 1 966.9,1367.67" fill="none" stroke="#21ade4" stroke-width="1.6"/><path d="M967.23,1367 A27,27 0 0 1 965.99,1369.33" fill="none" stroke="#22aae5" stroke-width="1.6"/><path d="M966.37,1368.67 A27,27 0 0 1 964.97,1370.91" fill="none" stroke="#22a6e6" stroke-width="1.6"/><path d="M965.39,1370.28 A27,27 0 0 1 963.84,1372.42" fill="none" stroke="#23a3e6" stroke-width="1.6"/><path d="M964.31,1371.82 A27,27 0 0 1 962.61,1373.84" fill="none" stroke="#23a0e7" stroke-width="1.6"/><path d="M963.12,1373.28 A27,27 0 0 1 961.28,1375.18" fill="none" stroke="#249de8" stroke-width="1.6"/><path d="M961.83,1374.66 A27,27 0 0 1 959.86,1376.42" fill="none" stroke="#249ae9" stroke-width="1.6"/><path d="M960.44,1375.94 A27,27 0 0 1 958.36,1377.56" fill="none" stroke="#2596e9" stroke-width="1.6"/><path d="M958.97,1377.12 A27,27 0 0 1 956.79,1378.59" fill="none" stroke="#2593ea" stroke-width="1.6"/><path d="M957.43,1378.2 A27,27 0 0 1 955.14,1379.51" fill="none" stroke="#2690eb" stroke-width="1.6"/><path d="M955.81,1379.16 A27,27 0 0 1 953.44,1380.32" fill="none" stroke="#278deb" stroke-width="1.6"/><path d="M954.13,1380.01 A27,27 0 0 1 951.68,1381" fill="none" stroke="#278aec" stroke-width="1.6"/><path d="M952.39,1380.74 A27,27 0 0 1 949.88,1381.56" fill="none" stroke="#2886ed" stroke-width="1.6"/><path d="M950.6,1381.35 A27,27 0 0 1 948.04,1381.99" fill="none" stroke="#2883ee" stroke-width="1.6"/><path d="M948.78,1381.83 A27,27 0 0 1 946.18,1382.29" fill="none" stroke="#2980ee" stroke-width="1.6"/><path d="M946.93,1382.18 A27,27 0 0 1 944.31,1382.46" fill="none" stroke="#297def" stroke-width="1.6"/><path d="M945.06,1382.41 A27,27 0 0 1 942.42,1382.5" fill="none" stroke="#2a7af0" stroke-width="1.6"/><path d="M943.18,1382.5 A27,27 0 0 1 940.54,1382.41" fill="none" stroke="#2a79f0" stroke-width="1.6"/><path d="M941.29,1382.46 A27,27 0 0 1 938.67,1382.18" fill="none" stroke="#297cef" stroke-width="1.6"/><path d="M939.42,1382.29 A27,27 0 0 1 936.82,1381.83" fill="none" stroke="#297eef" stroke-width="1.6"/><path d="M937.56,1381.99 A27,27 0 0 1 935,1381.35" fill="none" stroke="#2881ee" stroke-width="1.6"/><path d="M935.72,1381.56 A27,27 0 0 1 933.21,1380.74" fill="none" stroke="#2883ee" stroke-width="1.6"/><path d="M933.92,1381 A27,27 0 0 1 931.47,1380.01" fill="none" stroke="#2786ed" stroke-width="1.6"/><path d="M932.16,1380.32 A27,27 0 0 1 929.79,1379.16" fill="none" stroke="#2788ed" stroke-width="1.6"/><path d="M930.46,1379.51 A27,27 0 0 1 928.17,1378.2" fill="none" stroke="#268bec" stroke-width="1.6"/><path d="M928.81,1378.59 A27,27 0 0 1 926.63,1377.12" fill="none" stroke="#268dec" stroke-width="1.6"/><path d="M927.24,1377.56 A27,27 0 0 1 925.16,1375.94" fill="none" stroke="#2690ec" stroke-width="1.6"/><path d="M925.74,1376.42 A27,27 0 0 1 923.77,1374.66" fill="none" stroke="#2592eb" stroke-width="1.6"/><path d="M924.32,1375.18 A27,27 0 0 1 922.48,1373.28" fill="none" stroke="#2595eb" stroke-width="1.6"/><path d="M922.99,1373.84 A27,27 0 0 1 921.29,1371.82" fill="none" stroke="#2497ea" stroke-width="1.6"/><path d="M921.76,1372.42 A27,27 0 0 1 920.21,1370.28" fill="none" stroke="#f6d24c" stroke-width="1.6"/><path d="M920.63,1370.91 A27,27 0 0 1 919.23,1368.67" fill="none" stroke="#f6d24c" stroke-width="1.6"/><path d="M919.61,1369.33 A27,27 0 0 1 918.37,1367" fill="none" stroke="#f6d24c" stroke-width="1.6"/><path d="M918.7,1367.67 A27,27 0 0 1 917.63,1365.26" fill="none" stroke="#f6d24c" stroke-width="1.6"/><path d="M917.91,1365.96 A27,27 0 0 1 917.01,1363.48" fill="none" stroke="#f6d24c" stroke-width="1.6"/><path d="M917.24,1364.2 A27,27 0 0 1 916.51,1361.67" fill="none" stroke="#f6d24c" stroke-width="1.6"/><path d="M916.7,1362.4 A27,27 0 0 1 916.15,1359.82" fill="none" stroke="#f6d24c" stroke-width="1.6"/><path d="M916.28,1360.56 A27,27 0 0 1 915.91,1357.95" fill="none" stroke="#f6d24c" stroke-width="1.6"/><path d="M915.99,1358.7 A27,27 0 0 1 915.81,1356.07" fill="none" stroke="#f6d24c" stroke-width="1.6"/><path d="M915.83,1356.82 A27,27 0 0 1 915.83,1354.18" fill="none" stroke="#f6d24c" stroke-width="1.6"/><path d="M915.81,1354.93 A27,27 0 0 1 915.99,1352.3" fill="none" stroke="#f6d24c" stroke-width="1.6"/><path d="M915.91,1353.05 A27,27 0 0 1 916.28,1350.44" fill="none" stroke="#f6d24c" stroke-width="1.6"/><path d="M916.15,1351.18 A27,27 0 0 1 916.7,1348.6" fill="none" stroke="#f6d24c" stroke-width="1.6"/><path d="M916.51,1349.33 A27,27 0 0 1 917.24,1346.8" fill="none" stroke="#f6d24c" stroke-width="1.6"/><path d="M917.01,1347.52 A27,27 0 0 1 917.91,1345.04" fill="none" stroke="#f6d24c" stroke-width="1.6"/><path d="M917.63,1345.74 A27,27 0 0 1 918.7,1343.33" fill="none" stroke="#f6d24c" stroke-width="1.6"/><path d="M918.37,1344 A27,27 0 0 1 919.61,1341.67" fill="none" stroke="#f6d24c" stroke-width="1.6"/><path d="M919.23,1342.33 A27,27 0 0 1 920.63,1340.09" fill="none" stroke="#f6d24c" stroke-width="1.6"/><path d="M920.21,1340.72 A27,27 0 0 1 921.76,1338.58" fill="none" stroke="#f6d24c" stroke-width="1.6"/><path d="M921.29,1339.18 A27,27 0 0 1 922.99,1337.16" fill="none" stroke="#f6d24c" stroke-width="1.6"/><path d="M922.48,1337.72 A27,27 0 0 1 924.32,1335.82" fill="none" stroke="#f6d24c" stroke-width="1.6"/><path d="M923.77,1336.34 A27,27 0 0 1 925.74,1334.58" fill="none" stroke="#f6d24c" stroke-width="1.6"/><path d="M925.16,1335.06 A27,27 0 0 1 927.24,1333.44" fill="none" stroke="#f6d24c" stroke-width="1.6"/><path d="M926.63,1333.88 A27,27 0 0 1 928.81,1332.41" fill="none" stroke="#f6d24c" stroke-width="1.6"/><path d="M928.17,1332.8 A27,27 0 0 1 930.46,1331.49" fill="none" stroke="#f6d24c" stroke-width="1.6"/><path d="M929.79,1331.84 A27,27 0 0 1 932.16,1330.68" fill="none" stroke="#f6d24c" stroke-width="1.6"/><path d="M931.47,1330.99 A27,27 0 0 1 933.92,1330" fill="none" stroke="#f6d24c" stroke-width="1.6"/><path d="M933.21,1330.26 A27,27 0 0 1 935.72,1329.44" fill="none" stroke="#f6d24c" stroke-width="1.6"/><path d="M935,1329.65 A27,27 0 0 1 937.56,1329.01" fill="none" stroke="#f6d24c" stroke-width="1.6"/><path d="M936.82,1329.17 A27,27 0 0 1 939.42,1328.71" fill="none" stroke="#f6d24c" stroke-width="1.6"/><path d="M938.67,1328.82 A27,27 0 0 1 941.29,1328.54" fill="none" stroke="#f6d24c" stroke-width="1.6"/><path d="M940.54,1328.59 A27,27 0 0 1 943.18,1328.5" fill="none" stroke="#f6d24c" stroke-width="1.6"/><text x="853" y="1354.4" font-size="12.4" fill="#222" text-anchor="middle">512</text><text x="853" y="1365.6" font-size="6.4" fill="#555" text-anchor="middle">USERS</text><text x="942.8" y="1354.4" font-size="12.4" fill="#222" text-anchor="middle">432</text><text x="942.8" y="1365.6" font-size="6.4" fill="#555" text-anchor="middle">VOTES</text></svg></div>
<div class="c" style="left:779px;top:1427px;width:235px;height:142px"><svg width="235" height="142" viewBox="779 1427 235 142"><defs><linearGradient id="g47" x1="0" y1="0" x2="1" y2="0"><stop offset="0" stop-color="#2ed8c0"/><stop offset="1" stop-color="#2a7cf0"/></linearGradient></defs><text x="807.5" y="1457.5" font-size="7.4" fill="#444" text-anchor="end">XS</text><rect x="813.9" y="1450.9" width="160.2" height="7.8" rx="3.9" fill="#ececec"/><rect x="813.9" y="1450.9" width="47" height="7.8" rx="3.9" fill="url(#g47)"/><text x="980.8" y="1457.5" font-size="7.2" fill="#222">8</text><text x="807.5" y="1479.8" font-size="7.4" fill="#444" text-anchor="end">S</text><rect x="813.9" y="1473.2" width="160.2" height="7.8" rx="3.9" fill="#ececec"/><rect x="813.9" y="1473.2" width="93.7" height="7.8" rx="3.9" fill="url(#g47)"/><text x="980.8" y="1479.8" font-size="7.2" fill="#222">4</text><text x="807.5" y="1501.6" font-size="7.4" fill="#444" text-anchor="end">M</text><rect x="813.9" y="1495" width="160.2" height="7.8" rx="3.9" fill="#ececec"/><rect x="813.9" y="1495" width="126.9" height="7.8" rx="3.9" fill="url(#g47)"/><text x="980.8" y="1501.6" font-size="7.2" fill="#222">6</text><text x="807.5" y="1522.7" font-size="7.4" fill="#444" text-anchor="end">L</text><rect x="813.9" y="1516.1" width="160.2" height="7.8" rx="3.9" fill="#ececec"/><rect x="813.9" y="1516.1" width="47" height="7.8" rx="3.9" fill="url(#g47)"/><text x="980.8" y="1522.7" font-size="7.2" fill="#222">97</text><text x="807.5" y="1544.7" font-size="7.4" fill="#444" text-anchor="end">XL</text><rect x="813.9" y="1538.1" width="160.2" height="7.8" rx="3.9" fill="#ececec"/><rect x="813.9" y="1538.1" width="24.1" height="7.8" rx="3.9" fill="url(#g47)"/><text x="980.8" y="1544.7" font-size="7.2" fill="#222">176</text></svg></div>
<div class="c" style="left:779px;top:1583px;width:235px;height:152px"><svg width="235" height="152" viewBox="779 1583 235 152"><line x1="781" y1="1622.4" x2="1012" y2="1622.4" stroke="#e4e4e4" stroke-width="0.9"/><line x1="781" y1="1659.3" x2="1012" y2="1659.3" stroke="#e4e4e4" stroke-width="0.9"/><line x1="781" y1="1696.5" x2="1012" y2="1696.5" stroke="#e4e4e4" stroke-width="0.9"/><circle cx="800.1" cy="1603" r="4" fill="#2f80f6"/><text transform="translate(811.7 1605.8) scale(0.9 1)" font-size="7.9" fill="#222">SECTION ONE</text><text x="997" y="1605.8" font-size="7.7" fill="#333" text-anchor="end">44%</text><circle cx="800.1" cy="1640.2" r="4" fill="#2f80f6"/><text transform="translate(811.7 1643) scale(0.9 1)" font-size="7.9" fill="#222">SECTION TWO</text><text x="997" y="1643" font-size="7.7" fill="#333" text-anchor="end">41%</text><circle cx="800.1" cy="1678" r="4" fill="#2f80f6"/><text transform="translate(811.7 1680.8) scale(0.9 1)" font-size="7.9" fill="#222">SECTION THREE</text><text x="997" y="1680.8" font-size="7.7" fill="#333" text-anchor="end">8%</text><circle cx="800.1" cy="1715" r="4" fill="#2f80f6"/><text transform="translate(811.7 1717.8) scale(0.9 1)" font-size="7.9" fill="#222">SECTION FOUR</text><text x="997" y="1717.8" font-size="7.7" fill="#333" text-anchor="end">7%</text></svg></div>
</body></html>
